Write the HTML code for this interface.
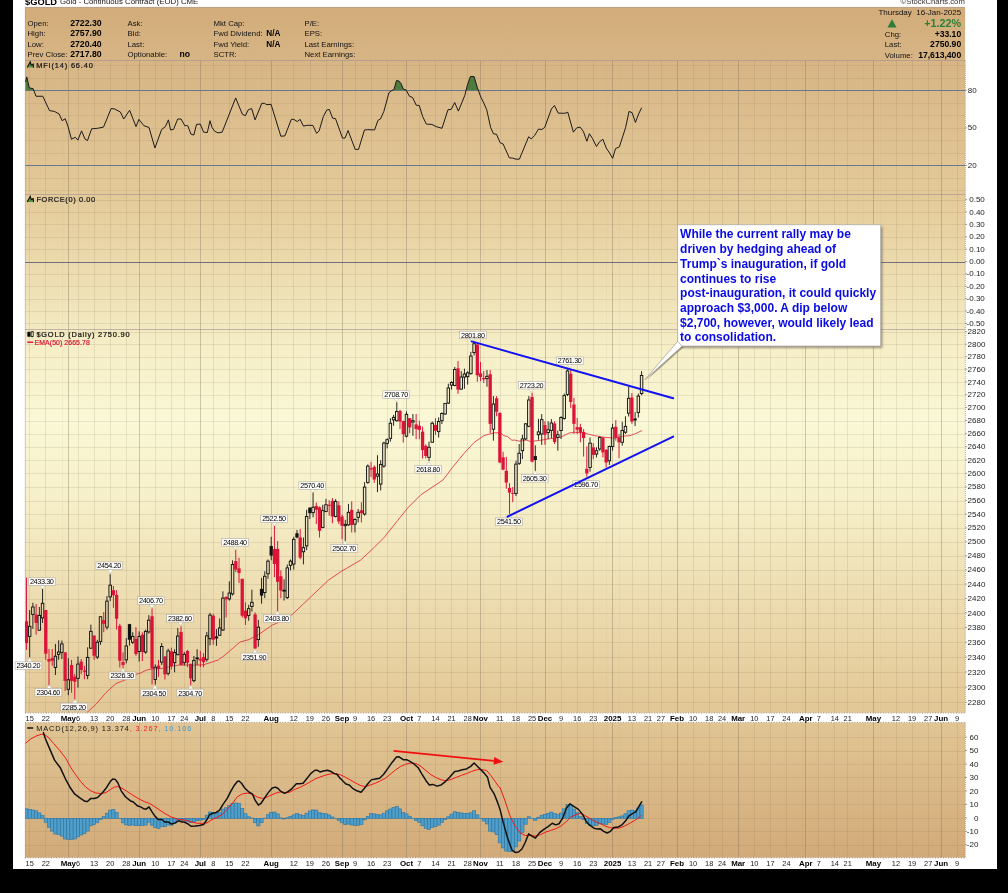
<!DOCTYPE html><html><head><meta charset="utf-8"><title>$GOLD</title>
<style>html,body{margin:0;padding:0;background:#000;}body{width:1008px;height:893px;overflow:hidden;font-family:"Liberation Sans",sans-serif;}svg{display:block;will-change:transform}text{font-family:"Liberation Sans",sans-serif;}</style></head><body>
<svg width="1008" height="893" viewBox="0 0 1008 893">
<defs>
<linearGradient id="bg" gradientUnits="userSpaceOnUse" x1="0" y1="7.0" x2="0" y2="869.0"><stop offset="0" stop-color="#D2AC7A"/><stop offset="0.07" stop-color="#D8B686"/><stop offset="0.22" stop-color="#E4CA99"/><stop offset="0.40" stop-color="#F6EFC8"/><stop offset="0.48" stop-color="#FAF8D6"/><stop offset="0.56" stop-color="#F7F1CB"/><stop offset="0.80" stop-color="#E4CA99"/><stop offset="1" stop-color="#D1A877"/></linearGradient>
<filter id="sh" x="-5%" y="-5%" width="115%" height="120%"><feGaussianBlur stdDeviation="1.2"/></filter>
<clipPath id="cpP"><rect x="25.0" y="329.5" width="940.1" height="383.29999999999995"/></clipPath>
<clipPath id="cpM"><rect x="25.0" y="722.6" width="940.1" height="135.0"/></clipPath>
<clipPath id="cpF"><rect x="25.0" y="60.5" width="940.1" height="134.0"/></clipPath>
</defs>
<rect width="1008" height="893" fill="#000"/>
<rect x="13" y="0" width="984" height="869.0" fill="#fff"/>
<rect x="25.0" y="7.0" width="940.1" height="705.8" fill="url(#bg)"/>
<rect x="25.0" y="722.6" width="940.1" height="135.0" fill="url(#bg)"/>
<g>
<line x1="29.5" y1="60.5" x2="29.5" y2="712.8" stroke="#7d6f58" stroke-opacity="0.15" stroke-width="1"/><line x1="45.5" y1="60.5" x2="45.5" y2="712.8" stroke="#7d6f58" stroke-opacity="0.15" stroke-width="1"/><line x1="62.5" y1="60.5" x2="62.5" y2="712.8" stroke="#7d6f58" stroke-opacity="0.05" stroke-width="1"/><line x1="68.5" y1="60.5" x2="68.5" y2="712.8" stroke="#7d6f58" stroke-opacity="0.36" stroke-width="1"/><line x1="78.5" y1="60.5" x2="78.5" y2="712.8" stroke="#7d6f58" stroke-opacity="0.15" stroke-width="1"/><line x1="94.5" y1="60.5" x2="94.5" y2="712.8" stroke="#7d6f58" stroke-opacity="0.15" stroke-width="1"/><line x1="110.5" y1="60.5" x2="110.5" y2="712.8" stroke="#7d6f58" stroke-opacity="0.15" stroke-width="1"/><line x1="126.5" y1="60.5" x2="126.5" y2="712.8" stroke="#7d6f58" stroke-opacity="0.15" stroke-width="1"/><line x1="139.5" y1="60.5" x2="139.5" y2="712.8" stroke="#7d6f58" stroke-opacity="0.36" stroke-width="1"/><line x1="155.5" y1="60.5" x2="155.5" y2="712.8" stroke="#7d6f58" stroke-opacity="0.15" stroke-width="1"/><line x1="171.5" y1="60.5" x2="171.5" y2="712.8" stroke="#7d6f58" stroke-opacity="0.15" stroke-width="1"/><line x1="184.5" y1="60.5" x2="184.5" y2="712.8" stroke="#7d6f58" stroke-opacity="0.15" stroke-width="1"/><line x1="200.5" y1="60.5" x2="200.5" y2="712.8" stroke="#7d6f58" stroke-opacity="0.36" stroke-width="1"/><line x1="213.5" y1="60.5" x2="213.5" y2="712.8" stroke="#7d6f58" stroke-opacity="0.15" stroke-width="1"/><line x1="229.5" y1="60.5" x2="229.5" y2="712.8" stroke="#7d6f58" stroke-opacity="0.15" stroke-width="1"/><line x1="245.5" y1="60.5" x2="245.5" y2="712.8" stroke="#7d6f58" stroke-opacity="0.15" stroke-width="1"/><line x1="261.5" y1="60.5" x2="261.5" y2="712.8" stroke="#7d6f58" stroke-opacity="0.05" stroke-width="1"/><line x1="271.5" y1="60.5" x2="271.5" y2="712.8" stroke="#7d6f58" stroke-opacity="0.36" stroke-width="1"/><line x1="277.5" y1="60.5" x2="277.5" y2="712.8" stroke="#7d6f58" stroke-opacity="0.05" stroke-width="1"/><line x1="293.5" y1="60.5" x2="293.5" y2="712.8" stroke="#7d6f58" stroke-opacity="0.15" stroke-width="1"/><line x1="310.5" y1="60.5" x2="310.5" y2="712.8" stroke="#7d6f58" stroke-opacity="0.15" stroke-width="1"/><line x1="326.5" y1="60.5" x2="326.5" y2="712.8" stroke="#7d6f58" stroke-opacity="0.15" stroke-width="1"/><line x1="342.5" y1="60.5" x2="342.5" y2="712.8" stroke="#7d6f58" stroke-opacity="0.36" stroke-width="1"/><line x1="355.5" y1="60.5" x2="355.5" y2="712.8" stroke="#7d6f58" stroke-opacity="0.15" stroke-width="1"/><line x1="371.5" y1="60.5" x2="371.5" y2="712.8" stroke="#7d6f58" stroke-opacity="0.15" stroke-width="1"/><line x1="387.5" y1="60.5" x2="387.5" y2="712.8" stroke="#7d6f58" stroke-opacity="0.15" stroke-width="1"/><line x1="403.5" y1="60.5" x2="403.5" y2="712.8" stroke="#7d6f58" stroke-opacity="0.05" stroke-width="1"/><line x1="406.5" y1="60.5" x2="406.5" y2="712.8" stroke="#7d6f58" stroke-opacity="0.36" stroke-width="1"/><line x1="419.5" y1="60.5" x2="419.5" y2="712.8" stroke="#7d6f58" stroke-opacity="0.15" stroke-width="1"/><line x1="435.5" y1="60.5" x2="435.5" y2="712.8" stroke="#7d6f58" stroke-opacity="0.15" stroke-width="1"/><line x1="451.5" y1="60.5" x2="451.5" y2="712.8" stroke="#7d6f58" stroke-opacity="0.15" stroke-width="1"/><line x1="467.5" y1="60.5" x2="467.5" y2="712.8" stroke="#7d6f58" stroke-opacity="0.15" stroke-width="1"/><line x1="480.5" y1="60.5" x2="480.5" y2="712.8" stroke="#7d6f58" stroke-opacity="0.36" stroke-width="1"/><line x1="483.5" y1="60.5" x2="483.5" y2="712.8" stroke="#7d6f58" stroke-opacity="0.05" stroke-width="1"/><line x1="500.5" y1="60.5" x2="500.5" y2="712.8" stroke="#7d6f58" stroke-opacity="0.15" stroke-width="1"/><line x1="516.5" y1="60.5" x2="516.5" y2="712.8" stroke="#7d6f58" stroke-opacity="0.15" stroke-width="1"/><line x1="532.5" y1="60.5" x2="532.5" y2="712.8" stroke="#7d6f58" stroke-opacity="0.15" stroke-width="1"/><line x1="545.5" y1="60.5" x2="545.5" y2="712.8" stroke="#7d6f58" stroke-opacity="0.36" stroke-width="1"/><line x1="561.5" y1="60.5" x2="561.5" y2="712.8" stroke="#7d6f58" stroke-opacity="0.15" stroke-width="1"/><line x1="577.5" y1="60.5" x2="577.5" y2="712.8" stroke="#7d6f58" stroke-opacity="0.15" stroke-width="1"/><line x1="593.5" y1="60.5" x2="593.5" y2="712.8" stroke="#7d6f58" stroke-opacity="0.15" stroke-width="1"/><line x1="606.5" y1="60.5" x2="606.5" y2="712.8" stroke="#7d6f58" stroke-opacity="0.05" stroke-width="1"/><line x1="612.5" y1="60.5" x2="612.5" y2="712.8" stroke="#7d6f58" stroke-opacity="0.36" stroke-width="1"/><line x1="619.5" y1="60.5" x2="619.5" y2="712.8" stroke="#7d6f58" stroke-opacity="0.05" stroke-width="1"/><line x1="632.5" y1="60.5" x2="632.5" y2="712.8" stroke="#7d6f58" stroke-opacity="0.15" stroke-width="1"/><line x1="648.5" y1="60.5" x2="648.5" y2="712.8" stroke="#7d6f58" stroke-opacity="0.15" stroke-width="1"/><line x1="661.5" y1="60.5" x2="661.5" y2="712.8" stroke="#7d6f58" stroke-opacity="0.15" stroke-width="1"/><line x1="677.5" y1="60.5" x2="677.5" y2="712.8" stroke="#7d6f58" stroke-opacity="0.36" stroke-width="1"/><line x1="693.5" y1="60.5" x2="693.5" y2="712.8" stroke="#7d6f58" stroke-opacity="0.15" stroke-width="1"/><line x1="709.5" y1="60.5" x2="709.5" y2="712.8" stroke="#7d6f58" stroke-opacity="0.15" stroke-width="1"/><line x1="722.5" y1="60.5" x2="722.5" y2="712.8" stroke="#7d6f58" stroke-opacity="0.15" stroke-width="1"/><line x1="738.5" y1="60.5" x2="738.5" y2="712.8" stroke="#7d6f58" stroke-opacity="0.36" stroke-width="1"/><line x1="754.5" y1="60.5" x2="754.5" y2="712.8" stroke="#7d6f58" stroke-opacity="0.15" stroke-width="1"/><line x1="770.5" y1="60.5" x2="770.5" y2="712.8" stroke="#7d6f58" stroke-opacity="0.15" stroke-width="1"/><line x1="786.5" y1="60.5" x2="786.5" y2="712.8" stroke="#7d6f58" stroke-opacity="0.15" stroke-width="1"/><line x1="802.5" y1="60.5" x2="802.5" y2="712.8" stroke="#7d6f58" stroke-opacity="0.05" stroke-width="1"/><line x1="805.5" y1="60.5" x2="805.5" y2="712.8" stroke="#7d6f58" stroke-opacity="0.36" stroke-width="1"/><line x1="818.5" y1="60.5" x2="818.5" y2="712.8" stroke="#7d6f58" stroke-opacity="0.15" stroke-width="1"/><line x1="834.5" y1="60.5" x2="834.5" y2="712.8" stroke="#7d6f58" stroke-opacity="0.15" stroke-width="1"/><line x1="847.5" y1="60.5" x2="847.5" y2="712.8" stroke="#7d6f58" stroke-opacity="0.15" stroke-width="1"/><line x1="863.5" y1="60.5" x2="863.5" y2="712.8" stroke="#7d6f58" stroke-opacity="0.05" stroke-width="1"/><line x1="873.5" y1="60.5" x2="873.5" y2="712.8" stroke="#7d6f58" stroke-opacity="0.36" stroke-width="1"/><line x1="880.5" y1="60.5" x2="880.5" y2="712.8" stroke="#7d6f58" stroke-opacity="0.05" stroke-width="1"/><line x1="896.5" y1="60.5" x2="896.5" y2="712.8" stroke="#7d6f58" stroke-opacity="0.15" stroke-width="1"/><line x1="912.5" y1="60.5" x2="912.5" y2="712.8" stroke="#7d6f58" stroke-opacity="0.15" stroke-width="1"/><line x1="928.5" y1="60.5" x2="928.5" y2="712.8" stroke="#7d6f58" stroke-opacity="0.15" stroke-width="1"/><line x1="941.5" y1="60.5" x2="941.5" y2="712.8" stroke="#7d6f58" stroke-opacity="0.36" stroke-width="1"/><line x1="957.5" y1="60.5" x2="957.5" y2="712.8" stroke="#7d6f58" stroke-opacity="0.15" stroke-width="1"/>
<line x1="29.5" y1="722.6" x2="29.5" y2="857.6" stroke="#7d6f58" stroke-opacity="0.15" stroke-width="1"/><line x1="45.5" y1="722.6" x2="45.5" y2="857.6" stroke="#7d6f58" stroke-opacity="0.15" stroke-width="1"/><line x1="62.5" y1="722.6" x2="62.5" y2="857.6" stroke="#7d6f58" stroke-opacity="0.05" stroke-width="1"/><line x1="68.5" y1="722.6" x2="68.5" y2="857.6" stroke="#7d6f58" stroke-opacity="0.36" stroke-width="1"/><line x1="78.5" y1="722.6" x2="78.5" y2="857.6" stroke="#7d6f58" stroke-opacity="0.15" stroke-width="1"/><line x1="94.5" y1="722.6" x2="94.5" y2="857.6" stroke="#7d6f58" stroke-opacity="0.15" stroke-width="1"/><line x1="110.5" y1="722.6" x2="110.5" y2="857.6" stroke="#7d6f58" stroke-opacity="0.15" stroke-width="1"/><line x1="126.5" y1="722.6" x2="126.5" y2="857.6" stroke="#7d6f58" stroke-opacity="0.15" stroke-width="1"/><line x1="139.5" y1="722.6" x2="139.5" y2="857.6" stroke="#7d6f58" stroke-opacity="0.36" stroke-width="1"/><line x1="155.5" y1="722.6" x2="155.5" y2="857.6" stroke="#7d6f58" stroke-opacity="0.15" stroke-width="1"/><line x1="171.5" y1="722.6" x2="171.5" y2="857.6" stroke="#7d6f58" stroke-opacity="0.15" stroke-width="1"/><line x1="184.5" y1="722.6" x2="184.5" y2="857.6" stroke="#7d6f58" stroke-opacity="0.15" stroke-width="1"/><line x1="200.5" y1="722.6" x2="200.5" y2="857.6" stroke="#7d6f58" stroke-opacity="0.36" stroke-width="1"/><line x1="213.5" y1="722.6" x2="213.5" y2="857.6" stroke="#7d6f58" stroke-opacity="0.15" stroke-width="1"/><line x1="229.5" y1="722.6" x2="229.5" y2="857.6" stroke="#7d6f58" stroke-opacity="0.15" stroke-width="1"/><line x1="245.5" y1="722.6" x2="245.5" y2="857.6" stroke="#7d6f58" stroke-opacity="0.15" stroke-width="1"/><line x1="261.5" y1="722.6" x2="261.5" y2="857.6" stroke="#7d6f58" stroke-opacity="0.05" stroke-width="1"/><line x1="271.5" y1="722.6" x2="271.5" y2="857.6" stroke="#7d6f58" stroke-opacity="0.36" stroke-width="1"/><line x1="277.5" y1="722.6" x2="277.5" y2="857.6" stroke="#7d6f58" stroke-opacity="0.05" stroke-width="1"/><line x1="293.5" y1="722.6" x2="293.5" y2="857.6" stroke="#7d6f58" stroke-opacity="0.15" stroke-width="1"/><line x1="310.5" y1="722.6" x2="310.5" y2="857.6" stroke="#7d6f58" stroke-opacity="0.15" stroke-width="1"/><line x1="326.5" y1="722.6" x2="326.5" y2="857.6" stroke="#7d6f58" stroke-opacity="0.15" stroke-width="1"/><line x1="342.5" y1="722.6" x2="342.5" y2="857.6" stroke="#7d6f58" stroke-opacity="0.36" stroke-width="1"/><line x1="355.5" y1="722.6" x2="355.5" y2="857.6" stroke="#7d6f58" stroke-opacity="0.15" stroke-width="1"/><line x1="371.5" y1="722.6" x2="371.5" y2="857.6" stroke="#7d6f58" stroke-opacity="0.15" stroke-width="1"/><line x1="387.5" y1="722.6" x2="387.5" y2="857.6" stroke="#7d6f58" stroke-opacity="0.15" stroke-width="1"/><line x1="403.5" y1="722.6" x2="403.5" y2="857.6" stroke="#7d6f58" stroke-opacity="0.05" stroke-width="1"/><line x1="406.5" y1="722.6" x2="406.5" y2="857.6" stroke="#7d6f58" stroke-opacity="0.36" stroke-width="1"/><line x1="419.5" y1="722.6" x2="419.5" y2="857.6" stroke="#7d6f58" stroke-opacity="0.15" stroke-width="1"/><line x1="435.5" y1="722.6" x2="435.5" y2="857.6" stroke="#7d6f58" stroke-opacity="0.15" stroke-width="1"/><line x1="451.5" y1="722.6" x2="451.5" y2="857.6" stroke="#7d6f58" stroke-opacity="0.15" stroke-width="1"/><line x1="467.5" y1="722.6" x2="467.5" y2="857.6" stroke="#7d6f58" stroke-opacity="0.15" stroke-width="1"/><line x1="480.5" y1="722.6" x2="480.5" y2="857.6" stroke="#7d6f58" stroke-opacity="0.36" stroke-width="1"/><line x1="483.5" y1="722.6" x2="483.5" y2="857.6" stroke="#7d6f58" stroke-opacity="0.05" stroke-width="1"/><line x1="500.5" y1="722.6" x2="500.5" y2="857.6" stroke="#7d6f58" stroke-opacity="0.15" stroke-width="1"/><line x1="516.5" y1="722.6" x2="516.5" y2="857.6" stroke="#7d6f58" stroke-opacity="0.15" stroke-width="1"/><line x1="532.5" y1="722.6" x2="532.5" y2="857.6" stroke="#7d6f58" stroke-opacity="0.15" stroke-width="1"/><line x1="545.5" y1="722.6" x2="545.5" y2="857.6" stroke="#7d6f58" stroke-opacity="0.36" stroke-width="1"/><line x1="561.5" y1="722.6" x2="561.5" y2="857.6" stroke="#7d6f58" stroke-opacity="0.15" stroke-width="1"/><line x1="577.5" y1="722.6" x2="577.5" y2="857.6" stroke="#7d6f58" stroke-opacity="0.15" stroke-width="1"/><line x1="593.5" y1="722.6" x2="593.5" y2="857.6" stroke="#7d6f58" stroke-opacity="0.15" stroke-width="1"/><line x1="606.5" y1="722.6" x2="606.5" y2="857.6" stroke="#7d6f58" stroke-opacity="0.05" stroke-width="1"/><line x1="612.5" y1="722.6" x2="612.5" y2="857.6" stroke="#7d6f58" stroke-opacity="0.36" stroke-width="1"/><line x1="619.5" y1="722.6" x2="619.5" y2="857.6" stroke="#7d6f58" stroke-opacity="0.05" stroke-width="1"/><line x1="632.5" y1="722.6" x2="632.5" y2="857.6" stroke="#7d6f58" stroke-opacity="0.15" stroke-width="1"/><line x1="648.5" y1="722.6" x2="648.5" y2="857.6" stroke="#7d6f58" stroke-opacity="0.15" stroke-width="1"/><line x1="661.5" y1="722.6" x2="661.5" y2="857.6" stroke="#7d6f58" stroke-opacity="0.15" stroke-width="1"/><line x1="677.5" y1="722.6" x2="677.5" y2="857.6" stroke="#7d6f58" stroke-opacity="0.36" stroke-width="1"/><line x1="693.5" y1="722.6" x2="693.5" y2="857.6" stroke="#7d6f58" stroke-opacity="0.15" stroke-width="1"/><line x1="709.5" y1="722.6" x2="709.5" y2="857.6" stroke="#7d6f58" stroke-opacity="0.15" stroke-width="1"/><line x1="722.5" y1="722.6" x2="722.5" y2="857.6" stroke="#7d6f58" stroke-opacity="0.15" stroke-width="1"/><line x1="738.5" y1="722.6" x2="738.5" y2="857.6" stroke="#7d6f58" stroke-opacity="0.36" stroke-width="1"/><line x1="754.5" y1="722.6" x2="754.5" y2="857.6" stroke="#7d6f58" stroke-opacity="0.15" stroke-width="1"/><line x1="770.5" y1="722.6" x2="770.5" y2="857.6" stroke="#7d6f58" stroke-opacity="0.15" stroke-width="1"/><line x1="786.5" y1="722.6" x2="786.5" y2="857.6" stroke="#7d6f58" stroke-opacity="0.15" stroke-width="1"/><line x1="802.5" y1="722.6" x2="802.5" y2="857.6" stroke="#7d6f58" stroke-opacity="0.05" stroke-width="1"/><line x1="805.5" y1="722.6" x2="805.5" y2="857.6" stroke="#7d6f58" stroke-opacity="0.36" stroke-width="1"/><line x1="818.5" y1="722.6" x2="818.5" y2="857.6" stroke="#7d6f58" stroke-opacity="0.15" stroke-width="1"/><line x1="834.5" y1="722.6" x2="834.5" y2="857.6" stroke="#7d6f58" stroke-opacity="0.15" stroke-width="1"/><line x1="847.5" y1="722.6" x2="847.5" y2="857.6" stroke="#7d6f58" stroke-opacity="0.15" stroke-width="1"/><line x1="863.5" y1="722.6" x2="863.5" y2="857.6" stroke="#7d6f58" stroke-opacity="0.05" stroke-width="1"/><line x1="873.5" y1="722.6" x2="873.5" y2="857.6" stroke="#7d6f58" stroke-opacity="0.36" stroke-width="1"/><line x1="880.5" y1="722.6" x2="880.5" y2="857.6" stroke="#7d6f58" stroke-opacity="0.05" stroke-width="1"/><line x1="896.5" y1="722.6" x2="896.5" y2="857.6" stroke="#7d6f58" stroke-opacity="0.15" stroke-width="1"/><line x1="912.5" y1="722.6" x2="912.5" y2="857.6" stroke="#7d6f58" stroke-opacity="0.15" stroke-width="1"/><line x1="928.5" y1="722.6" x2="928.5" y2="857.6" stroke="#7d6f58" stroke-opacity="0.15" stroke-width="1"/><line x1="941.5" y1="722.6" x2="941.5" y2="857.6" stroke="#7d6f58" stroke-opacity="0.36" stroke-width="1"/><line x1="957.5" y1="722.6" x2="957.5" y2="857.6" stroke="#7d6f58" stroke-opacity="0.15" stroke-width="1"/>
</g>
<line x1="25.0" y1="190.5" x2="965.1" y2="190.5" stroke="#7d6f58" stroke-opacity="0.12" stroke-width="1"/>
<line x1="25.0" y1="178.5" x2="965.1" y2="178.5" stroke="#7d6f58" stroke-opacity="0.12" stroke-width="1"/>
<line x1="25.0" y1="153.5" x2="965.1" y2="153.5" stroke="#7d6f58" stroke-opacity="0.12" stroke-width="1"/>
<line x1="25.0" y1="140.5" x2="965.1" y2="140.5" stroke="#7d6f58" stroke-opacity="0.12" stroke-width="1"/>
<line x1="25.0" y1="128.5" x2="965.1" y2="128.5" stroke="#7d6f58" stroke-opacity="0.12" stroke-width="1"/>
<line x1="25.0" y1="115.5" x2="965.1" y2="115.5" stroke="#7d6f58" stroke-opacity="0.12" stroke-width="1"/>
<line x1="25.0" y1="103.5" x2="965.1" y2="103.5" stroke="#7d6f58" stroke-opacity="0.12" stroke-width="1"/>
<line x1="25.0" y1="78.5" x2="965.1" y2="78.5" stroke="#7d6f58" stroke-opacity="0.12" stroke-width="1"/>
<line x1="25.0" y1="65.5" x2="965.1" y2="65.5" stroke="#7d6f58" stroke-opacity="0.12" stroke-width="1"/>
<line x1="25.0" y1="323.5" x2="965.1" y2="323.5" stroke="#7d6f58" stroke-opacity="0.13" stroke-width="1"/>
<line x1="25.0" y1="311.5" x2="965.1" y2="311.5" stroke="#7d6f58" stroke-opacity="0.13" stroke-width="1"/>
<line x1="25.0" y1="299.5" x2="965.1" y2="299.5" stroke="#7d6f58" stroke-opacity="0.13" stroke-width="1"/>
<line x1="25.0" y1="286.5" x2="965.1" y2="286.5" stroke="#7d6f58" stroke-opacity="0.13" stroke-width="1"/>
<line x1="25.0" y1="274.5" x2="965.1" y2="274.5" stroke="#7d6f58" stroke-opacity="0.13" stroke-width="1"/>
<line x1="25.0" y1="249.5" x2="965.1" y2="249.5" stroke="#7d6f58" stroke-opacity="0.13" stroke-width="1"/>
<line x1="25.0" y1="237.5" x2="965.1" y2="237.5" stroke="#7d6f58" stroke-opacity="0.13" stroke-width="1"/>
<line x1="25.0" y1="224.5" x2="965.1" y2="224.5" stroke="#7d6f58" stroke-opacity="0.13" stroke-width="1"/>
<line x1="25.0" y1="212.5" x2="965.1" y2="212.5" stroke="#7d6f58" stroke-opacity="0.13" stroke-width="1"/>
<line x1="25.0" y1="200.5" x2="965.1" y2="200.5" stroke="#7d6f58" stroke-opacity="0.13" stroke-width="1"/>
<line x1="25.0" y1="702.5" x2="965.1" y2="702.5" stroke="#7d6f58" stroke-opacity="0.145" stroke-width="1"/>
<line x1="25.0" y1="687.5" x2="965.1" y2="687.5" stroke="#7d6f58" stroke-opacity="0.145" stroke-width="1"/>
<line x1="25.0" y1="672.5" x2="965.1" y2="672.5" stroke="#7d6f58" stroke-opacity="0.145" stroke-width="1"/>
<line x1="25.0" y1="657.5" x2="965.1" y2="657.5" stroke="#7d6f58" stroke-opacity="0.145" stroke-width="1"/>
<line x1="25.0" y1="642.5" x2="965.1" y2="642.5" stroke="#7d6f58" stroke-opacity="0.145" stroke-width="1"/>
<line x1="25.0" y1="628.5" x2="965.1" y2="628.5" stroke="#7d6f58" stroke-opacity="0.145" stroke-width="1"/>
<line x1="25.0" y1="613.5" x2="965.1" y2="613.5" stroke="#7d6f58" stroke-opacity="0.145" stroke-width="1"/>
<line x1="25.0" y1="599.5" x2="965.1" y2="599.5" stroke="#7d6f58" stroke-opacity="0.145" stroke-width="1"/>
<line x1="25.0" y1="584.5" x2="965.1" y2="584.5" stroke="#7d6f58" stroke-opacity="0.145" stroke-width="1"/>
<line x1="25.0" y1="570.5" x2="965.1" y2="570.5" stroke="#7d6f58" stroke-opacity="0.145" stroke-width="1"/>
<line x1="25.0" y1="556.5" x2="965.1" y2="556.5" stroke="#7d6f58" stroke-opacity="0.145" stroke-width="1"/>
<line x1="25.0" y1="542.5" x2="965.1" y2="542.5" stroke="#7d6f58" stroke-opacity="0.145" stroke-width="1"/>
<line x1="25.0" y1="528.5" x2="965.1" y2="528.5" stroke="#7d6f58" stroke-opacity="0.145" stroke-width="1"/>
<line x1="25.0" y1="514.5" x2="965.1" y2="514.5" stroke="#7d6f58" stroke-opacity="0.145" stroke-width="1"/>
<line x1="25.0" y1="501.5" x2="965.1" y2="501.5" stroke="#7d6f58" stroke-opacity="0.145" stroke-width="1"/>
<line x1="25.0" y1="487.5" x2="965.1" y2="487.5" stroke="#7d6f58" stroke-opacity="0.145" stroke-width="1"/>
<line x1="25.0" y1="473.5" x2="965.1" y2="473.5" stroke="#7d6f58" stroke-opacity="0.145" stroke-width="1"/>
<line x1="25.0" y1="460.5" x2="965.1" y2="460.5" stroke="#7d6f58" stroke-opacity="0.145" stroke-width="1"/>
<line x1="25.0" y1="447.5" x2="965.1" y2="447.5" stroke="#7d6f58" stroke-opacity="0.145" stroke-width="1"/>
<line x1="25.0" y1="434.5" x2="965.1" y2="434.5" stroke="#7d6f58" stroke-opacity="0.145" stroke-width="1"/>
<line x1="25.0" y1="421.5" x2="965.1" y2="421.5" stroke="#7d6f58" stroke-opacity="0.145" stroke-width="1"/>
<line x1="25.0" y1="408.5" x2="965.1" y2="408.5" stroke="#7d6f58" stroke-opacity="0.145" stroke-width="1"/>
<line x1="25.0" y1="395.5" x2="965.1" y2="395.5" stroke="#7d6f58" stroke-opacity="0.145" stroke-width="1"/>
<line x1="25.0" y1="382.5" x2="965.1" y2="382.5" stroke="#7d6f58" stroke-opacity="0.145" stroke-width="1"/>
<line x1="25.0" y1="369.5" x2="965.1" y2="369.5" stroke="#7d6f58" stroke-opacity="0.145" stroke-width="1"/>
<line x1="25.0" y1="357.5" x2="965.1" y2="357.5" stroke="#7d6f58" stroke-opacity="0.145" stroke-width="1"/>
<line x1="25.0" y1="344.5" x2="965.1" y2="344.5" stroke="#7d6f58" stroke-opacity="0.145" stroke-width="1"/>
<line x1="25.0" y1="332.5" x2="965.1" y2="332.5" stroke="#7d6f58" stroke-opacity="0.145" stroke-width="1"/>
<line x1="25.0" y1="845.5" x2="965.1" y2="845.5" stroke="#7d6f58" stroke-opacity="0.14" stroke-width="1"/>
<line x1="25.0" y1="831.5" x2="965.1" y2="831.5" stroke="#7d6f58" stroke-opacity="0.14" stroke-width="1"/>
<line x1="25.0" y1="818.5" x2="965.1" y2="818.5" stroke="#7d6f58" stroke-opacity="0.14" stroke-width="1"/>
<line x1="25.0" y1="804.5" x2="965.1" y2="804.5" stroke="#7d6f58" stroke-opacity="0.14" stroke-width="1"/>
<line x1="25.0" y1="791.5" x2="965.1" y2="791.5" stroke="#7d6f58" stroke-opacity="0.14" stroke-width="1"/>
<line x1="25.0" y1="777.5" x2="965.1" y2="777.5" stroke="#7d6f58" stroke-opacity="0.14" stroke-width="1"/>
<line x1="25.0" y1="764.5" x2="965.1" y2="764.5" stroke="#7d6f58" stroke-opacity="0.14" stroke-width="1"/>
<line x1="25.0" y1="751.5" x2="965.1" y2="751.5" stroke="#7d6f58" stroke-opacity="0.14" stroke-width="1"/>
<line x1="25.0" y1="737.5" x2="965.1" y2="737.5" stroke="#7d6f58" stroke-opacity="0.14" stroke-width="1"/>
<line x1="25.0" y1="90.5" x2="965.1" y2="90.5" stroke="#66788a" stroke-opacity="1" stroke-width="1"/>
<line x1="25.0" y1="165.5" x2="965.1" y2="165.5" stroke="#66788a" stroke-opacity="1" stroke-width="1"/>
<line x1="25.0" y1="262.5" x2="965.1" y2="262.5" stroke="#6f6f82" stroke-opacity="1" stroke-width="1"/>
<line x1="25.0" y1="60.5" x2="965.1" y2="60.5" stroke="#a48f95" stroke-opacity="0.62" stroke-width="1"/>
<line x1="25.0" y1="194.5" x2="965.1" y2="194.5" stroke="#a48f95" stroke-opacity="0.62" stroke-width="1"/>
<line x1="25.0" y1="329.5" x2="965.1" y2="329.5" stroke="#a48f95" stroke-opacity="0.62" stroke-width="1"/>
<line x1="25.3" y1="7.0" x2="25.3" y2="712.8" stroke="#a48f95" stroke-opacity="0.6" stroke-width="0.8"/>
<line x1="25.3" y1="722.6" x2="25.3" y2="857.6" stroke="#a48f95" stroke-opacity="0.6" stroke-width="0.8"/>
<line x1="965.3000000000001" y1="60.5" x2="965.3000000000001" y2="712.8" stroke="#9c6f86" stroke-opacity="0.8" stroke-width="0.9" stroke-dasharray="1 1.05"/>
<line x1="965.3000000000001" y1="722.6" x2="965.3000000000001" y2="857.6" stroke="#9c6f86" stroke-opacity="0.8" stroke-width="0.9" stroke-dasharray="1 1.05"/>
<line x1="25.0" y1="7.3" x2="965.1" y2="7.3" stroke="#a48f95" stroke-opacity="0.5" stroke-width="0.8"/>
<line x1="25.0" y1="713" x2="965.1" y2="713" stroke="#6b5a48" stroke-opacity="0.75" stroke-width="0.8" stroke-dasharray="1 1.6"/>
<line x1="25.0" y1="722.4" x2="965.1" y2="722.4" stroke="#6b5a48" stroke-opacity="0.75" stroke-width="0.8" stroke-dasharray="1 1.6"/>
<line x1="25.0" y1="857.8" x2="965.1" y2="857.8" stroke="#6b5a48" stroke-opacity="0.75" stroke-width="0.8" stroke-dasharray="1 1.6"/>
<text x="29.67" y="720.6" font-size="7.4" text-anchor="middle" fill="#222">15</text><text x="45.77" y="720.6" font-size="7.4" text-anchor="middle" fill="#222">22</text><text x="68.32" y="720.6" font-size="7.9" font-weight="bold" text-anchor="middle" fill="#000">May</text><text x="77.98" y="720.6" font-size="7.4" text-anchor="middle" fill="#222">6</text><text x="94.08" y="720.6" font-size="7.4" text-anchor="middle" fill="#222">13</text><text x="110.18" y="720.6" font-size="7.4" text-anchor="middle" fill="#222">20</text><text x="126.29" y="720.6" font-size="7.4" text-anchor="middle" fill="#222">28</text><text x="139.17" y="720.6" font-size="7.9" font-weight="bold" text-anchor="middle" fill="#000">Jun</text><text x="155.27" y="720.6" font-size="7.4" text-anchor="middle" fill="#222">10</text><text x="171.37" y="720.6" font-size="7.4" text-anchor="middle" fill="#222">17</text><text x="184.25" y="720.6" font-size="7.4" text-anchor="middle" fill="#222">24</text><text x="200.36" y="720.6" font-size="7.9" font-weight="bold" text-anchor="middle" fill="#000">Jul</text><text x="213.24" y="720.6" font-size="7.4" text-anchor="middle" fill="#222">8</text><text x="229.34" y="720.6" font-size="7.4" text-anchor="middle" fill="#222">15</text><text x="245.44" y="720.6" font-size="7.4" text-anchor="middle" fill="#222">22</text><text x="271.21" y="720.6" font-size="7.9" font-weight="bold" text-anchor="middle" fill="#000">Aug</text><text x="293.75" y="720.6" font-size="7.4" text-anchor="middle" fill="#222">12</text><text x="309.85" y="720.6" font-size="7.4" text-anchor="middle" fill="#222">19</text><text x="325.96" y="720.6" font-size="7.4" text-anchor="middle" fill="#222">26</text><text x="342.06" y="720.6" font-size="7.9" font-weight="bold" text-anchor="middle" fill="#000">Sep</text><text x="354.94" y="720.6" font-size="7.4" text-anchor="middle" fill="#222">9</text><text x="371.04" y="720.6" font-size="7.4" text-anchor="middle" fill="#222">16</text><text x="387.15" y="720.6" font-size="7.4" text-anchor="middle" fill="#222">23</text><text x="406.47" y="720.6" font-size="7.9" font-weight="bold" text-anchor="middle" fill="#000">Oct</text><text x="419.35" y="720.6" font-size="7.4" text-anchor="middle" fill="#222">7</text><text x="435.45" y="720.6" font-size="7.4" text-anchor="middle" fill="#222">14</text><text x="451.56" y="720.6" font-size="7.4" text-anchor="middle" fill="#222">21</text><text x="467.66" y="720.6" font-size="7.4" text-anchor="middle" fill="#222">28</text><text x="480.54" y="720.6" font-size="7.9" font-weight="bold" text-anchor="middle" fill="#000">Nov</text><text x="499.86" y="720.6" font-size="7.4" text-anchor="middle" fill="#222">11</text><text x="515.97" y="720.6" font-size="7.4" text-anchor="middle" fill="#222">18</text><text x="532.07" y="720.6" font-size="7.4" text-anchor="middle" fill="#222">25</text><text x="544.95" y="720.6" font-size="7.9" font-weight="bold" text-anchor="middle" fill="#000">Dec</text><text x="561.05" y="720.6" font-size="7.4" text-anchor="middle" fill="#222">9</text><text x="577.16" y="720.6" font-size="7.4" text-anchor="middle" fill="#222">16</text><text x="593.26" y="720.6" font-size="7.4" text-anchor="middle" fill="#222">23</text><text x="612.58" y="720.6" font-size="7.9" font-weight="bold" text-anchor="middle" fill="#000">2025</text><text x="631.9" y="720.6" font-size="7.4" text-anchor="middle" fill="#222">13</text><text x="648.01" y="720.6" font-size="7.4" text-anchor="middle" fill="#222">21</text><text x="660.89" y="720.6" font-size="7.4" text-anchor="middle" fill="#222">27</text><text x="676.99" y="720.6" font-size="7.9" font-weight="bold" text-anchor="middle" fill="#000">Feb</text><text x="693.09" y="720.6" font-size="7.4" text-anchor="middle" fill="#222">10</text><text x="709.2" y="720.6" font-size="7.4" text-anchor="middle" fill="#222">18</text><text x="722.08" y="720.6" font-size="7.4" text-anchor="middle" fill="#222">24</text><text x="738.18" y="720.6" font-size="7.9" font-weight="bold" text-anchor="middle" fill="#000">Mar</text><text x="754.28" y="720.6" font-size="7.4" text-anchor="middle" fill="#222">10</text><text x="770.39" y="720.6" font-size="7.4" text-anchor="middle" fill="#222">17</text><text x="786.49" y="720.6" font-size="7.4" text-anchor="middle" fill="#222">24</text><text x="805.81" y="720.6" font-size="7.9" font-weight="bold" text-anchor="middle" fill="#000">Apr</text><text x="818.69" y="720.6" font-size="7.4" text-anchor="middle" fill="#222">7</text><text x="834.8" y="720.6" font-size="7.4" text-anchor="middle" fill="#222">14</text><text x="847.68" y="720.6" font-size="7.4" text-anchor="middle" fill="#222">21</text><text x="873.44" y="720.6" font-size="7.9" font-weight="bold" text-anchor="middle" fill="#000">May</text><text x="895.99" y="720.6" font-size="7.4" text-anchor="middle" fill="#222">12</text><text x="912.09" y="720.6" font-size="7.4" text-anchor="middle" fill="#222">19</text><text x="928.19" y="720.6" font-size="7.4" text-anchor="middle" fill="#222">27</text><text x="941.07" y="720.6" font-size="7.9" font-weight="bold" text-anchor="middle" fill="#000">Jun</text><text x="957.17" y="720.6" font-size="7.4" text-anchor="middle" fill="#222">9</text>
<text x="29.67" y="865.8" font-size="7.4" text-anchor="middle" fill="#222">15</text><text x="45.77" y="865.8" font-size="7.4" text-anchor="middle" fill="#222">22</text><text x="68.32" y="865.8" font-size="7.9" font-weight="bold" text-anchor="middle" fill="#000">May</text><text x="77.98" y="865.8" font-size="7.4" text-anchor="middle" fill="#222">6</text><text x="94.08" y="865.8" font-size="7.4" text-anchor="middle" fill="#222">13</text><text x="110.18" y="865.8" font-size="7.4" text-anchor="middle" fill="#222">20</text><text x="126.29" y="865.8" font-size="7.4" text-anchor="middle" fill="#222">28</text><text x="139.17" y="865.8" font-size="7.9" font-weight="bold" text-anchor="middle" fill="#000">Jun</text><text x="155.27" y="865.8" font-size="7.4" text-anchor="middle" fill="#222">10</text><text x="171.37" y="865.8" font-size="7.4" text-anchor="middle" fill="#222">17</text><text x="184.25" y="865.8" font-size="7.4" text-anchor="middle" fill="#222">24</text><text x="200.36" y="865.8" font-size="7.9" font-weight="bold" text-anchor="middle" fill="#000">Jul</text><text x="213.24" y="865.8" font-size="7.4" text-anchor="middle" fill="#222">8</text><text x="229.34" y="865.8" font-size="7.4" text-anchor="middle" fill="#222">15</text><text x="245.44" y="865.8" font-size="7.4" text-anchor="middle" fill="#222">22</text><text x="271.21" y="865.8" font-size="7.9" font-weight="bold" text-anchor="middle" fill="#000">Aug</text><text x="293.75" y="865.8" font-size="7.4" text-anchor="middle" fill="#222">12</text><text x="309.85" y="865.8" font-size="7.4" text-anchor="middle" fill="#222">19</text><text x="325.96" y="865.8" font-size="7.4" text-anchor="middle" fill="#222">26</text><text x="342.06" y="865.8" font-size="7.9" font-weight="bold" text-anchor="middle" fill="#000">Sep</text><text x="354.94" y="865.8" font-size="7.4" text-anchor="middle" fill="#222">9</text><text x="371.04" y="865.8" font-size="7.4" text-anchor="middle" fill="#222">16</text><text x="387.15" y="865.8" font-size="7.4" text-anchor="middle" fill="#222">23</text><text x="406.47" y="865.8" font-size="7.9" font-weight="bold" text-anchor="middle" fill="#000">Oct</text><text x="419.35" y="865.8" font-size="7.4" text-anchor="middle" fill="#222">7</text><text x="435.45" y="865.8" font-size="7.4" text-anchor="middle" fill="#222">14</text><text x="451.56" y="865.8" font-size="7.4" text-anchor="middle" fill="#222">21</text><text x="467.66" y="865.8" font-size="7.4" text-anchor="middle" fill="#222">28</text><text x="480.54" y="865.8" font-size="7.9" font-weight="bold" text-anchor="middle" fill="#000">Nov</text><text x="499.86" y="865.8" font-size="7.4" text-anchor="middle" fill="#222">11</text><text x="515.97" y="865.8" font-size="7.4" text-anchor="middle" fill="#222">18</text><text x="532.07" y="865.8" font-size="7.4" text-anchor="middle" fill="#222">25</text><text x="544.95" y="865.8" font-size="7.9" font-weight="bold" text-anchor="middle" fill="#000">Dec</text><text x="561.05" y="865.8" font-size="7.4" text-anchor="middle" fill="#222">9</text><text x="577.16" y="865.8" font-size="7.4" text-anchor="middle" fill="#222">16</text><text x="593.26" y="865.8" font-size="7.4" text-anchor="middle" fill="#222">23</text><text x="612.58" y="865.8" font-size="7.9" font-weight="bold" text-anchor="middle" fill="#000">2025</text><text x="631.9" y="865.8" font-size="7.4" text-anchor="middle" fill="#222">13</text><text x="648.01" y="865.8" font-size="7.4" text-anchor="middle" fill="#222">21</text><text x="660.89" y="865.8" font-size="7.4" text-anchor="middle" fill="#222">27</text><text x="676.99" y="865.8" font-size="7.9" font-weight="bold" text-anchor="middle" fill="#000">Feb</text><text x="693.09" y="865.8" font-size="7.4" text-anchor="middle" fill="#222">10</text><text x="709.2" y="865.8" font-size="7.4" text-anchor="middle" fill="#222">18</text><text x="722.08" y="865.8" font-size="7.4" text-anchor="middle" fill="#222">24</text><text x="738.18" y="865.8" font-size="7.9" font-weight="bold" text-anchor="middle" fill="#000">Mar</text><text x="754.28" y="865.8" font-size="7.4" text-anchor="middle" fill="#222">10</text><text x="770.39" y="865.8" font-size="7.4" text-anchor="middle" fill="#222">17</text><text x="786.49" y="865.8" font-size="7.4" text-anchor="middle" fill="#222">24</text><text x="805.81" y="865.8" font-size="7.9" font-weight="bold" text-anchor="middle" fill="#000">Apr</text><text x="818.69" y="865.8" font-size="7.4" text-anchor="middle" fill="#222">7</text><text x="834.8" y="865.8" font-size="7.4" text-anchor="middle" fill="#222">14</text><text x="847.68" y="865.8" font-size="7.4" text-anchor="middle" fill="#222">21</text><text x="873.44" y="865.8" font-size="7.9" font-weight="bold" text-anchor="middle" fill="#000">May</text><text x="895.99" y="865.8" font-size="7.4" text-anchor="middle" fill="#222">12</text><text x="912.09" y="865.8" font-size="7.4" text-anchor="middle" fill="#222">19</text><text x="928.19" y="865.8" font-size="7.4" text-anchor="middle" fill="#222">27</text><text x="941.07" y="865.8" font-size="7.9" font-weight="bold" text-anchor="middle" fill="#000">Jun</text><text x="957.17" y="865.8" font-size="7.4" text-anchor="middle" fill="#222">9</text>
<text x="967.8" y="92.9" font-size="8.0" text-anchor="start" fill="#222">80</text>
<line x1="965.1" y1="90.3" x2="967.1" y2="90.3" stroke="#6b5a48" stroke-width="0.7" stroke-opacity="0.8"/>
<text x="967.8" y="130.45" font-size="8.0" text-anchor="start" fill="#222">50</text>
<line x1="965.1" y1="127.85" x2="967.1" y2="127.85" stroke="#6b5a48" stroke-width="0.7" stroke-opacity="0.8"/>
<text x="967.8" y="168" font-size="8.0" text-anchor="start" fill="#222">20</text>
<line x1="965.1" y1="165.4" x2="967.1" y2="165.4" stroke="#6b5a48" stroke-width="0.7" stroke-opacity="0.8"/>
<text x="984.8" y="325.95" font-size="8.0" text-anchor="end" fill="#222">-0.50</text>
<line x1="965.1" y1="323.35" x2="967.1" y2="323.35" stroke="#6b5a48" stroke-width="0.7" stroke-opacity="0.8"/>
<text x="984.8" y="313.58" font-size="8.0" text-anchor="end" fill="#222">-0.40</text>
<line x1="965.1" y1="310.98" x2="967.1" y2="310.98" stroke="#6b5a48" stroke-width="0.7" stroke-opacity="0.8"/>
<text x="984.8" y="301.21" font-size="8.0" text-anchor="end" fill="#222">-0.30</text>
<line x1="965.1" y1="298.61" x2="967.1" y2="298.61" stroke="#6b5a48" stroke-width="0.7" stroke-opacity="0.8"/>
<text x="984.8" y="288.84" font-size="8.0" text-anchor="end" fill="#222">-0.20</text>
<line x1="965.1" y1="286.24" x2="967.1" y2="286.24" stroke="#6b5a48" stroke-width="0.7" stroke-opacity="0.8"/>
<text x="984.8" y="276.47" font-size="8.0" text-anchor="end" fill="#222">-0.10</text>
<line x1="965.1" y1="273.87" x2="967.1" y2="273.87" stroke="#6b5a48" stroke-width="0.7" stroke-opacity="0.8"/>
<text x="984.8" y="264.1" font-size="8.0" text-anchor="end" fill="#222">0.00</text>
<line x1="965.1" y1="261.5" x2="967.1" y2="261.5" stroke="#6b5a48" stroke-width="0.7" stroke-opacity="0.8"/>
<text x="984.8" y="251.73" font-size="8.0" text-anchor="end" fill="#222">0.10</text>
<line x1="965.1" y1="249.13" x2="967.1" y2="249.13" stroke="#6b5a48" stroke-width="0.7" stroke-opacity="0.8"/>
<text x="984.8" y="239.36" font-size="8.0" text-anchor="end" fill="#222">0.20</text>
<line x1="965.1" y1="236.76" x2="967.1" y2="236.76" stroke="#6b5a48" stroke-width="0.7" stroke-opacity="0.8"/>
<text x="984.8" y="226.99" font-size="8.0" text-anchor="end" fill="#222">0.30</text>
<line x1="965.1" y1="224.39" x2="967.1" y2="224.39" stroke="#6b5a48" stroke-width="0.7" stroke-opacity="0.8"/>
<text x="984.8" y="214.62" font-size="8.0" text-anchor="end" fill="#222">0.40</text>
<line x1="965.1" y1="212.02" x2="967.1" y2="212.02" stroke="#6b5a48" stroke-width="0.7" stroke-opacity="0.8"/>
<text x="984.8" y="202.25" font-size="8.0" text-anchor="end" fill="#222">0.50</text>
<line x1="965.1" y1="199.65" x2="967.1" y2="199.65" stroke="#6b5a48" stroke-width="0.7" stroke-opacity="0.8"/>
<text x="967.6" y="704.93" font-size="8.0" text-anchor="start" fill="#222">2280</text>
<line x1="965.1" y1="702.33" x2="967.1" y2="702.33" stroke="#6b5a48" stroke-width="0.7" stroke-opacity="0.8"/>
<text x="967.6" y="689.71" font-size="8.0" text-anchor="start" fill="#222">2300</text>
<line x1="965.1" y1="687.11" x2="967.1" y2="687.11" stroke="#6b5a48" stroke-width="0.7" stroke-opacity="0.8"/>
<text x="967.6" y="674.61" font-size="8.0" text-anchor="start" fill="#222">2320</text>
<line x1="965.1" y1="672.01" x2="967.1" y2="672.01" stroke="#6b5a48" stroke-width="0.7" stroke-opacity="0.8"/>
<text x="967.6" y="659.65" font-size="8.0" text-anchor="start" fill="#222">2340</text>
<line x1="965.1" y1="657.05" x2="967.1" y2="657.05" stroke="#6b5a48" stroke-width="0.7" stroke-opacity="0.8"/>
<text x="967.6" y="644.81" font-size="8.0" text-anchor="start" fill="#222">2360</text>
<line x1="965.1" y1="642.21" x2="967.1" y2="642.21" stroke="#6b5a48" stroke-width="0.7" stroke-opacity="0.8"/>
<text x="967.6" y="630.1" font-size="8.0" text-anchor="start" fill="#222">2380</text>
<line x1="965.1" y1="627.5" x2="967.1" y2="627.5" stroke="#6b5a48" stroke-width="0.7" stroke-opacity="0.8"/>
<text x="967.6" y="615.52" font-size="8.0" text-anchor="start" fill="#222">2400</text>
<line x1="965.1" y1="612.92" x2="967.1" y2="612.92" stroke="#6b5a48" stroke-width="0.7" stroke-opacity="0.8"/>
<text x="967.6" y="601.05" font-size="8.0" text-anchor="start" fill="#222">2420</text>
<line x1="965.1" y1="598.45" x2="967.1" y2="598.45" stroke="#6b5a48" stroke-width="0.7" stroke-opacity="0.8"/>
<text x="967.6" y="586.7" font-size="8.0" text-anchor="start" fill="#222">2440</text>
<line x1="965.1" y1="584.1" x2="967.1" y2="584.1" stroke="#6b5a48" stroke-width="0.7" stroke-opacity="0.8"/>
<text x="967.6" y="572.47" font-size="8.0" text-anchor="start" fill="#222">2460</text>
<line x1="965.1" y1="569.87" x2="967.1" y2="569.87" stroke="#6b5a48" stroke-width="0.7" stroke-opacity="0.8"/>
<text x="967.6" y="558.36" font-size="8.0" text-anchor="start" fill="#222">2480</text>
<line x1="965.1" y1="555.76" x2="967.1" y2="555.76" stroke="#6b5a48" stroke-width="0.7" stroke-opacity="0.8"/>
<text x="967.6" y="544.35" font-size="8.0" text-anchor="start" fill="#222">2500</text>
<line x1="965.1" y1="541.75" x2="967.1" y2="541.75" stroke="#6b5a48" stroke-width="0.7" stroke-opacity="0.8"/>
<text x="967.6" y="530.46" font-size="8.0" text-anchor="start" fill="#222">2520</text>
<line x1="965.1" y1="527.86" x2="967.1" y2="527.86" stroke="#6b5a48" stroke-width="0.7" stroke-opacity="0.8"/>
<text x="967.6" y="516.68" font-size="8.0" text-anchor="start" fill="#222">2540</text>
<line x1="965.1" y1="514.08" x2="967.1" y2="514.08" stroke="#6b5a48" stroke-width="0.7" stroke-opacity="0.8"/>
<text x="967.6" y="503.01" font-size="8.0" text-anchor="start" fill="#222">2560</text>
<line x1="965.1" y1="500.41" x2="967.1" y2="500.41" stroke="#6b5a48" stroke-width="0.7" stroke-opacity="0.8"/>
<text x="967.6" y="489.45" font-size="8.0" text-anchor="start" fill="#222">2580</text>
<line x1="965.1" y1="486.85" x2="967.1" y2="486.85" stroke="#6b5a48" stroke-width="0.7" stroke-opacity="0.8"/>
<text x="967.6" y="475.99" font-size="8.0" text-anchor="start" fill="#222">2600</text>
<line x1="965.1" y1="473.39" x2="967.1" y2="473.39" stroke="#6b5a48" stroke-width="0.7" stroke-opacity="0.8"/>
<text x="967.6" y="462.63" font-size="8.0" text-anchor="start" fill="#222">2620</text>
<line x1="965.1" y1="460.03" x2="967.1" y2="460.03" stroke="#6b5a48" stroke-width="0.7" stroke-opacity="0.8"/>
<text x="967.6" y="449.37" font-size="8.0" text-anchor="start" fill="#222">2640</text>
<line x1="965.1" y1="446.77" x2="967.1" y2="446.77" stroke="#6b5a48" stroke-width="0.7" stroke-opacity="0.8"/>
<text x="967.6" y="436.21" font-size="8.0" text-anchor="start" fill="#222">2660</text>
<line x1="965.1" y1="433.61" x2="967.1" y2="433.61" stroke="#6b5a48" stroke-width="0.7" stroke-opacity="0.8"/>
<text x="967.6" y="423.16" font-size="8.0" text-anchor="start" fill="#222">2680</text>
<line x1="965.1" y1="420.56" x2="967.1" y2="420.56" stroke="#6b5a48" stroke-width="0.7" stroke-opacity="0.8"/>
<text x="967.6" y="410.2" font-size="8.0" text-anchor="start" fill="#222">2700</text>
<line x1="965.1" y1="407.6" x2="967.1" y2="407.6" stroke="#6b5a48" stroke-width="0.7" stroke-opacity="0.8"/>
<text x="967.6" y="397.33" font-size="8.0" text-anchor="start" fill="#222">2720</text>
<line x1="965.1" y1="394.73" x2="967.1" y2="394.73" stroke="#6b5a48" stroke-width="0.7" stroke-opacity="0.8"/>
<text x="967.6" y="384.56" font-size="8.0" text-anchor="start" fill="#222">2740</text>
<line x1="965.1" y1="381.96" x2="967.1" y2="381.96" stroke="#6b5a48" stroke-width="0.7" stroke-opacity="0.8"/>
<text x="967.6" y="371.88" font-size="8.0" text-anchor="start" fill="#222">2760</text>
<line x1="965.1" y1="369.28" x2="967.1" y2="369.28" stroke="#6b5a48" stroke-width="0.7" stroke-opacity="0.8"/>
<text x="967.6" y="359.3" font-size="8.0" text-anchor="start" fill="#222">2780</text>
<line x1="965.1" y1="356.7" x2="967.1" y2="356.7" stroke="#6b5a48" stroke-width="0.7" stroke-opacity="0.8"/>
<text x="967.6" y="346.8" font-size="8.0" text-anchor="start" fill="#222">2800</text>
<line x1="965.1" y1="344.2" x2="967.1" y2="344.2" stroke="#6b5a48" stroke-width="0.7" stroke-opacity="0.8"/>
<text x="967.6" y="334.39" font-size="8.0" text-anchor="start" fill="#222">2820</text>
<line x1="965.1" y1="331.79" x2="967.1" y2="331.79" stroke="#6b5a48" stroke-width="0.7" stroke-opacity="0.8"/>
<text x="978.4" y="847.44" font-size="8.0" text-anchor="end" fill="#222">-20</text>
<line x1="965.1" y1="844.84" x2="967.1" y2="844.84" stroke="#6b5a48" stroke-width="0.7" stroke-opacity="0.8"/>
<text x="978.4" y="833.97" font-size="8.0" text-anchor="end" fill="#222">-10</text>
<line x1="965.1" y1="831.37" x2="967.1" y2="831.37" stroke="#6b5a48" stroke-width="0.7" stroke-opacity="0.8"/>
<text x="978.4" y="820.5" font-size="8.0" text-anchor="end" fill="#222">0</text>
<line x1="965.1" y1="817.9" x2="967.1" y2="817.9" stroke="#6b5a48" stroke-width="0.7" stroke-opacity="0.8"/>
<text x="978.4" y="807.03" font-size="8.0" text-anchor="end" fill="#222">10</text>
<line x1="965.1" y1="804.43" x2="967.1" y2="804.43" stroke="#6b5a48" stroke-width="0.7" stroke-opacity="0.8"/>
<text x="978.4" y="793.56" font-size="8.0" text-anchor="end" fill="#222">20</text>
<line x1="965.1" y1="790.96" x2="967.1" y2="790.96" stroke="#6b5a48" stroke-width="0.7" stroke-opacity="0.8"/>
<text x="978.4" y="780.09" font-size="8.0" text-anchor="end" fill="#222">30</text>
<line x1="965.1" y1="777.49" x2="967.1" y2="777.49" stroke="#6b5a48" stroke-width="0.7" stroke-opacity="0.8"/>
<text x="978.4" y="766.62" font-size="8.0" text-anchor="end" fill="#222">40</text>
<line x1="965.1" y1="764.02" x2="967.1" y2="764.02" stroke="#6b5a48" stroke-width="0.7" stroke-opacity="0.8"/>
<text x="978.4" y="753.15" font-size="8.0" text-anchor="end" fill="#222">50</text>
<line x1="965.1" y1="750.55" x2="967.1" y2="750.55" stroke="#6b5a48" stroke-width="0.7" stroke-opacity="0.8"/>
<text x="978.4" y="739.68" font-size="8.0" text-anchor="end" fill="#222">60</text>
<line x1="965.1" y1="737.08" x2="967.1" y2="737.08" stroke="#6b5a48" stroke-width="0.7" stroke-opacity="0.8"/>
<g clip-path="url(#cpF)">
<path d="M25.57 90.3 L25.57 81.92 L26.75 76.87 L29.28 87.83 L33.15 88.67 L33.77 90.3 Z" fill="#4f7c3e" stroke="none"/>
<path d="M392.29 90.3 L393.97 89.51 L396.5 80.58 L399.03 81.08 L401.05 83.61 L403.24 89.01 L406.11 90.02 L406.26 90.3 Z" fill="#4f7c3e" stroke="none"/>
<path d="M466.08 90.3 L467.33 85.3 L470.37 76.53 L474.08 76.53 L477.45 87.83 L478.35 90.3 Z" fill="#4f7c3e" stroke="none"/>
<path d="M25.57 81.92 L26.75 76.87 L29.28 87.83 L33.15 88.67 L36.02 96.26 L42.77 96.26 L49.51 110.6 L54.57 111.44 L59.13 113.97 L62.16 120.71 L65.2 118.69 L68.07 126.62 L71.44 139.27 L75.32 137.24 L77.85 140.11 L81.56 130.83 L84.93 138.93 L87.46 140.62 L91.68 128.81 L97.58 128.3 L103.48 127.12 L106.86 119.03 L111.07 108.57 L114.44 108.91 L120.35 111.94 L123.72 119.03 L129.62 110.26 L136.03 126.62 L138.9 119.37 L143.96 125.77 L149.02 127.46 L154.92 148.04 L161.67 129.48 L165.38 126.62 L168.41 119.87 L170.61 129.99 L173.47 129.48 L177.69 119.03 L181.06 119.03 L184.43 124.93 L184.72 125.77 L186.75 125.44 L187.81 125.77 L190.96 134.21 L193.83 135.05 L196.53 124.42 L200.24 124.09 L203.61 132.18 L207.32 132.52 L210.02 120.71 L212.04 127.46 L214.57 131.17 L217.95 132.86 L222.16 132.18 L235.65 97.95 L242.4 114.31 L245.44 115.65 L248.3 109.75 L251.68 108.57 L255.05 119.87 L261.8 103.34 L264.33 103.34 L266.86 104.69 L271.07 104.36 L280.85 136.23 L284.9 135.89 L291.31 119.37 L293.84 119.37 L297.21 121.56 L300.08 119.37 L303.45 126.11 L307.33 125.27 L312.9 125.44 L316.61 133.36 L319.14 130.83 L323.35 116.5 L326.73 110.09 L329.26 109.41 L332.63 118.18 L335.5 118.69 L342.53 138.09 L345.06 138.09 L348.1 130.5 L355.18 149.38 L358.55 149.38 L364.45 129.99 L367.83 129.65 L374.57 129.99 L377.95 120.38 L380.48 119.03 L383.85 111.44 L388.91 92.89 L391.44 90.69 L393.97 89.51 L396.5 80.58 L399.03 81.08 L401.05 83.61 L403.24 89.01 L406.11 90.02 L409.48 96.26 L412.52 97.44 L416.23 105.2 L419.27 105.54 L422.64 116.5 L426.35 124.09 L431.91 124.42 L436.13 126.62 L442.03 128.3 L447.94 109.75 L451.31 109.25 L454.68 102.5 L458.39 111.1 L464.8 95.42 L467.33 85.3 L470.37 76.53 L474.08 76.53 L477.45 87.83 L480.82 97.1 L484.2 103.85 L486.73 109.75 L490.61 127.46 L493.47 133.87 L496.51 134.21 L499.88 142.13 L500 142.64 L502.75 143.82 L503.04 143.82 L509.28 157.82 L512.65 158.15 L516.02 159.17 L519.39 159.17 L528.67 136.74 L531.2 138.93 L534.57 135.56 L538.45 129.15 L541.83 129.48 L544.69 127.46 L551.44 108.91 L554.47 105.54 L558.18 113.12 L564.93 113.29 L567.8 112.28 L573.36 132.18 L576.74 127.8 L580.11 127.12 L583.48 131.68 L586.86 141.29 L589.38 133.7 L592.42 138.42 L596.47 146.52 L599.5 141.8 L602.88 139.27 L606.25 148.04 L609.62 153.1 L612.66 158.32 L615.53 148.54 L619.4 146.86 L625.64 127.46 L629.02 111.44 L632.05 112.62 L635.43 122.4 L638.63 113.97 L641.67 107.73" fill="none" stroke="#1a1a1a" stroke-width="1" stroke-linejoin="round"/>
</g>
<g clip-path="url(#cpM)">
<g fill="#4f9fca" stroke="#2a74a3" stroke-width="0.6"><rect x="25" y="808.82" width="3.05" height="9.48"/><rect x="28.07" y="809.3" width="3.2" height="9"/><rect x="31.29" y="810" width="3.2" height="8.3"/><rect x="34.51" y="810.77" width="3.2" height="7.53"/><rect x="37.73" y="812.87" width="3.2" height="5.43"/><rect x="40.95" y="815.55" width="3.2" height="2.75"/><rect x="44.17" y="818.3" width="3.2" height="4.03"/><rect x="47.39" y="818.3" width="3.2" height="8.98"/><rect x="50.61" y="818.3" width="3.2" height="12.79"/><rect x="53.83" y="818.3" width="3.2" height="15.74"/><rect x="57.05" y="818.3" width="3.2" height="16.38"/><rect x="60.28" y="818.3" width="3.2" height="17.86"/><rect x="63.5" y="818.3" width="3.2" height="20.69"/><rect x="66.72" y="818.3" width="3.2" height="21.08"/><rect x="69.94" y="818.3" width="3.2" height="20.99"/><rect x="73.16" y="818.3" width="3.2" height="20.67"/><rect x="76.38" y="818.3" width="3.2" height="18.62"/><rect x="79.6" y="818.3" width="3.2" height="16.71"/><rect x="82.82" y="818.3" width="3.2" height="15.32"/><rect x="86.04" y="818.3" width="3.2" height="12.81"/><rect x="89.26" y="818.3" width="3.2" height="7.58"/><rect x="92.48" y="818.3" width="3.2" height="6.18"/><rect x="95.7" y="818.3" width="3.2" height="4.48"/><rect x="98.92" y="818.3" width="3.2" height="1.15"/><rect x="102.14" y="816.47" width="3.2" height="1.83"/><rect x="105.36" y="813.2" width="3.2" height="5.1"/><rect x="108.58" y="810.19" width="3.2" height="8.11"/><rect x="111.8" y="809.67" width="3.2" height="8.63"/><rect x="115.02" y="812.65" width="3.2" height="5.65"/><rect x="118.24" y="818.3" width="3.2" height="0.3"/><rect x="121.47" y="818.3" width="3.2" height="4.54"/><rect x="124.69" y="818.3" width="3.2" height="6.61"/><rect x="127.91" y="818.3" width="3.2" height="7.15"/><rect x="131.13" y="818.3" width="3.2" height="6.61"/><rect x="134.35" y="818.3" width="3.2" height="7.41"/><rect x="137.57" y="818.3" width="3.2" height="7.38"/><rect x="140.79" y="818.3" width="3.2" height="7.35"/><rect x="144.01" y="818.3" width="3.2" height="6.81"/><rect x="147.23" y="818.3" width="3.2" height="3.87"/><rect x="150.45" y="818.3" width="3.2" height="6.88"/><rect x="153.67" y="818.3" width="3.2" height="9.39"/><rect x="156.89" y="818.3" width="3.2" height="10.27"/><rect x="160.11" y="818.3" width="3.2" height="8.16"/><rect x="163.33" y="818.3" width="3.2" height="8.42"/><rect x="166.55" y="818.3" width="3.2" height="6.67"/><rect x="169.77" y="818.3" width="3.2" height="6.87"/><rect x="172.99" y="818.3" width="3.2" height="4.96"/><rect x="176.21" y="818.3" width="3.2" height="1.85"/><rect x="179.43" y="818.3" width="3.2" height="2.12"/><rect x="182.65" y="818.3" width="3.2" height="2.03"/><rect x="185.88" y="818.3" width="3.2" height="3.07"/><rect x="189.1" y="818.3" width="3.2" height="4.39"/><rect x="192.32" y="818.3" width="3.2" height="3.49"/><rect x="195.54" y="818.3" width="3.2" height="2.45"/><rect x="198.76" y="818.3" width="3.2" height="1.88"/><rect x="201.98" y="818.3" width="3.2" height="1.35"/><rect x="205.2" y="815.19" width="3.2" height="3.11"/><rect x="208.42" y="812" width="3.2" height="6.3"/><rect x="211.64" y="812.45" width="3.2" height="5.85"/><rect x="214.86" y="812.85" width="3.2" height="5.45"/><rect x="218.08" y="812.51" width="3.2" height="5.79"/><rect x="221.3" y="809.1" width="3.2" height="9.2"/><rect x="224.52" y="807.78" width="3.2" height="10.52"/><rect x="227.74" y="805.57" width="3.2" height="12.73"/><rect x="230.96" y="803.43" width="3.2" height="14.87"/><rect x="234.18" y="802.99" width="3.2" height="15.31"/><rect x="237.4" y="803.56" width="3.2" height="14.74"/><rect x="240.62" y="808.57" width="3.2" height="9.73"/><rect x="243.84" y="813.71" width="3.2" height="4.59"/><rect x="247.06" y="816.73" width="3.2" height="1.57"/><rect x="250.28" y="818.07" width="3.2" height="0.3"/><rect x="253.51" y="818.3" width="3.2" height="4.44"/><rect x="256.73" y="818.3" width="3.2" height="7.61"/><rect x="259.95" y="818.3" width="3.2" height="4.42"/><rect x="263.17" y="818.17" width="3.2" height="0.3"/><rect x="266.39" y="814.72" width="3.2" height="3.58"/><rect x="269.61" y="812.46" width="3.2" height="5.84"/><rect x="272.83" y="812.02" width="3.2" height="6.28"/><rect x="276.05" y="813.9" width="3.2" height="4.4"/><rect x="279.27" y="817.89" width="3.2" height="0.41"/><rect x="282.49" y="818.3" width="3.2" height="0.64"/><rect x="285.71" y="817.74" width="3.2" height="0.56"/><rect x="288.93" y="816.33" width="3.2" height="1.97"/><rect x="292.15" y="814.86" width="3.2" height="3.44"/><rect x="295.37" y="813.48" width="3.2" height="4.82"/><rect x="298.59" y="814.75" width="3.2" height="3.55"/><rect x="301.81" y="815.55" width="3.2" height="2.75"/><rect x="305.03" y="813.25" width="3.2" height="5.05"/><rect x="308.25" y="810.95" width="3.2" height="7.35"/><rect x="311.47" y="809.9" width="3.2" height="8.4"/><rect x="314.69" y="810.08" width="3.2" height="8.22"/><rect x="317.92" y="812.74" width="3.2" height="5.56"/><rect x="321.14" y="813.33" width="3.2" height="4.97"/><rect x="324.36" y="813.74" width="3.2" height="4.56"/><rect x="327.58" y="814.91" width="3.2" height="3.39"/><rect x="330.8" y="816.95" width="3.2" height="1.35"/><rect x="334.02" y="818.3" width="3.2" height="0.39"/><rect x="337.24" y="818.3" width="3.2" height="2.27"/><rect x="340.46" y="818.3" width="3.2" height="4.51"/><rect x="343.68" y="818.3" width="3.2" height="6.34"/><rect x="346.9" y="818.3" width="3.2" height="5.78"/><rect x="350.12" y="818.3" width="3.2" height="6.6"/><rect x="353.34" y="818.3" width="3.2" height="7.08"/><rect x="356.56" y="818.3" width="3.2" height="6.92"/><rect x="359.78" y="818.3" width="3.2" height="6.13"/><rect x="363" y="818.3" width="3.2" height="1.65"/><rect x="366.22" y="816.28" width="3.2" height="2.02"/><rect x="369.44" y="813.65" width="3.2" height="4.65"/><rect x="372.66" y="813.93" width="3.2" height="4.37"/><rect x="375.88" y="814.7" width="3.2" height="3.6"/><rect x="379.1" y="814.81" width="3.2" height="3.49"/><rect x="382.33" y="813.17" width="3.2" height="5.13"/><rect x="385.55" y="810.81" width="3.2" height="7.49"/><rect x="388.77" y="808.99" width="3.2" height="9.31"/><rect x="391.99" y="807.42" width="3.2" height="10.88"/><rect x="395.21" y="806.38" width="3.2" height="11.92"/><rect x="398.43" y="808.91" width="3.2" height="9.39"/><rect x="401.65" y="812.65" width="3.2" height="5.65"/><rect x="404.87" y="813.91" width="3.2" height="4.39"/><rect x="408.09" y="816.2" width="3.2" height="2.1"/><rect x="411.31" y="818.3" width="3.2" height="0.3"/><rect x="414.53" y="818.3" width="3.2" height="2.31"/><rect x="417.75" y="818.3" width="3.2" height="4.22"/><rect x="420.97" y="818.3" width="3.2" height="7.48"/><rect x="424.19" y="818.3" width="3.2" height="9.95"/><rect x="427.41" y="818.3" width="3.2" height="11.37"/><rect x="430.63" y="818.3" width="3.2" height="9.03"/><rect x="433.85" y="818.3" width="3.2" height="8.21"/><rect x="437.07" y="818.3" width="3.2" height="6.85"/><rect x="440.29" y="818.3" width="3.2" height="4.38"/><rect x="443.51" y="818.3" width="3.2" height="1.27"/><rect x="446.74" y="816.77" width="3.2" height="1.53"/><rect x="449.96" y="814.12" width="3.2" height="4.18"/><rect x="453.18" y="811.75" width="3.2" height="6.55"/><rect x="456.4" y="812.55" width="3.2" height="5.75"/><rect x="459.62" y="812.95" width="3.2" height="5.35"/><rect x="462.84" y="813.3" width="3.2" height="5"/><rect x="466.06" y="813.38" width="3.2" height="4.92"/><rect x="469.28" y="812.78" width="3.2" height="5.52"/><rect x="472.5" y="810.74" width="3.2" height="7.56"/><rect x="475.72" y="814.84" width="3.2" height="3.46"/><rect x="478.94" y="818.28" width="3.2" height="0.3"/><rect x="482.16" y="818.3" width="3.2" height="2.79"/><rect x="485.38" y="818.3" width="3.2" height="5.7"/><rect x="488.6" y="818.3" width="3.2" height="12.86"/><rect x="491.82" y="818.3" width="3.2" height="13.65"/><rect x="495.04" y="818.3" width="3.2" height="16.39"/><rect x="498.26" y="818.3" width="3.2" height="24.54"/><rect x="501.48" y="818.3" width="3.2" height="29.68"/><rect x="504.7" y="818.3" width="3.2" height="32.77"/><rect x="507.92" y="818.3" width="3.2" height="33.2"/><rect x="511.15" y="818.3" width="3.2" height="33.27"/><rect x="514.37" y="818.3" width="3.2" height="28.51"/><rect x="517.59" y="818.3" width="3.2" height="22.67"/><rect x="520.81" y="818.3" width="3.2" height="13.97"/><rect x="524.03" y="818.3" width="3.2" height="5.92"/><rect x="527.25" y="816.73" width="3.2" height="1.57"/><rect x="530.47" y="818.3" width="3.2" height="0.35"/><rect x="533.69" y="818.3" width="3.2" height="1.96"/><rect x="536.91" y="817.19" width="3.2" height="1.11"/><rect x="540.13" y="815.23" width="3.2" height="3.07"/><rect x="543.35" y="814.44" width="3.2" height="3.86"/><rect x="546.57" y="813.53" width="3.2" height="4.77"/><rect x="549.79" y="812.03" width="3.2" height="6.27"/><rect x="553.01" y="813.55" width="3.2" height="4.75"/><rect x="556.23" y="814.75" width="3.2" height="3.55"/><rect x="559.45" y="813.01" width="3.2" height="5.29"/><rect x="562.67" y="808.81" width="3.2" height="9.49"/><rect x="565.89" y="804.68" width="3.2" height="13.62"/><rect x="569.11" y="805.5" width="3.2" height="12.8"/><rect x="572.34" y="809.06" width="3.2" height="9.24"/><rect x="575.56" y="812.51" width="3.2" height="5.79"/><rect x="578.78" y="816.64" width="3.2" height="1.66"/><rect x="582" y="818.3" width="3.2" height="1.42"/><rect x="585.22" y="818.3" width="3.2" height="5.38"/><rect x="588.44" y="818.3" width="3.2" height="6.82"/><rect x="591.66" y="818.3" width="3.2" height="7.21"/><rect x="594.88" y="818.3" width="3.2" height="6.94"/><rect x="598.1" y="818.3" width="3.2" height="5.53"/><rect x="601.32" y="818.3" width="3.2" height="5.79"/><rect x="604.54" y="818.3" width="3.2" height="6.2"/><rect x="607.76" y="818.3" width="3.2" height="4.36"/><rect x="610.98" y="818.3" width="3.2" height="0.99"/><rect x="614.2" y="817.46" width="3.2" height="0.84"/><rect x="617.42" y="816.83" width="3.2" height="1.47"/><rect x="620.64" y="815.94" width="3.2" height="2.36"/><rect x="623.86" y="813.79" width="3.2" height="4.51"/><rect x="627.08" y="810.75" width="3.2" height="7.55"/><rect x="630.3" y="810.16" width="3.2" height="8.14"/><rect x="633.52" y="810.34" width="3.2" height="7.96"/><rect x="636.75" y="807.92" width="3.2" height="10.38"/><rect x="639.97" y="804.95" width="3.2" height="13.35"/></g>
<path d="M25.57 743.27 L30.12 739.39 L36.02 736.02 L41.08 734.34 L43.61 734.34 L47.83 736.87 L53.73 743.61 L59.63 750.36 L65.54 757.95 L70.6 767.22 L75.65 774.81 L80.71 781.56 L85.77 787.12 L90.83 790.83 L95.89 793.03 L100.95 793.53 L106.01 792.52 L111.07 789.15 L114.44 787.12 L117.82 786.62 L121.19 787.8 L126.25 790.83 L131.31 794.21 L138.06 798.42 L144.8 801.8 L149.86 803.48 L154.92 806.86 L159.98 810.23 L165.04 813.6 L170.1 816.47 L175.16 818.32 L180 820.35 L180.22 819.5 L186.75 820.35 L191.81 822.03 L196.87 823.21 L201.92 823.38 L206.98 822.88 L212.04 819.5 L217.1 817.48 L222.16 814.44 L227.22 809.38 L232.28 803.48 L237.34 796.74 L242.4 793.87 L247.46 793.03 L252.52 794.21 L257.58 797.24 L262.64 798.42 L266.01 797.58 L271.07 795.05 L276.13 793.03 L281.19 791.68 L285.41 792.86 L289.62 792.18 L294.68 789.48 L299.74 787.46 L304.8 784.93 L309.86 782.06 L314.92 779.03 L319.98 777 L325.04 775.32 L330.1 773.97 L335.16 773.46 L340 774.81 L340.22 774.81 L345.06 777 L350.12 779.87 L355.18 782.74 L360.24 785.44 L365.3 786.62 L370.36 784.93 L375.42 783.24 L380.48 780.71 L385.54 778.18 L390.6 773.97 L395.65 769.75 L400.71 766.38 L405.77 764.19 L410.83 763.01 L415.89 763.51 L420.95 766.38 L426.01 770.6 L431.07 774.81 L436.13 777.68 L441.19 779.87 L446.25 780.71 L451.31 779.37 L456.37 777.34 L461.43 775.32 L466.49 773.63 L471.55 771.44 L476.61 769.75 L481.67 769.41 L486.73 770.6 L490.94 775.65 L495.16 781.56 L499.38 787.46 L500 787.46 L505.06 800.95 L510.12 816.13 L515.18 826.25 L520.24 833 L525.3 835.53 L530.36 835.53 L535.42 836.03 L540.48 834.68 L545.54 832.15 L550.6 830.47 L555.65 828.78 L560.71 826.25 L565.77 822.03 L570.83 816.97 L575.89 814.78 L580.11 813.26 L584.33 815.29 L589.38 818.15 L594.44 821.19 L599.5 823.21 L604.56 825.74 L609.62 827.6 L614.68 828.27 L619.74 827.94 L624.8 825.91 L629.86 823.21 L634.92 820.35 L638.29 817.82 L641.67 815.29" fill="none" stroke="#f01818" stroke-width="1" stroke-linejoin="round"/>
<path d="M43.27 732.14 L45.3 738.55 L50.36 750.36 L54.57 760.14 L60.48 768.07 L65.54 779.03 L70.6 788.3 L74.81 794.21 L79.87 797.92 L84.93 801.29 L87.46 801.46 L90.83 798.42 L94.21 798.42 L97.58 797.58 L102.64 792.52 L106.01 788.3 L110.23 781.56 L112.76 779.03 L115.29 779.37 L117.82 782.74 L121.19 790.83 L125.41 796.74 L130.47 800.95 L133 801.8 L137.21 805.67 L140.59 806.86 L143.96 808.88 L146.49 808.88 L149.02 806.86 L151.55 811.07 L154.92 816.13 L158.29 819.5 L161.67 819.5 L165.04 822.03 L168.41 822.03 L171.79 824.06 L175.16 822.88 L178.53 820.85 L181.9 822.03 L184.22 822.03 L187.59 823.72 L190.96 826.25 L195.18 825.91 L199.39 825.41 L203.61 824.56 L206.98 819.5 L209.51 814.78 L212.89 813.26 L216.26 812.42 L219.63 810.23 L223.01 804.33 L227.22 798.42 L230.6 791.68 L233.97 785.77 L237.34 781.56 L239.03 781.05 L241.56 783.24 L244.93 788.3 L249.15 792.18 L252.52 794.21 L255.05 800.11 L258.42 805.17 L260.95 803.48 L264.33 798.42 L267.7 793.36 L271.91 788.3 L275.29 787.12 L277.82 788.3 L281.19 791.68 L284.56 793.36 L287.94 791.68 L291.31 789.15 L296.37 783.75 L299.74 783.75 L303.12 783.24 L306.49 779.03 L310.7 773.63 L314.92 770.26 L317.45 770.26 L319.98 771.94 L323.35 770.93 L327.57 770.26 L330.94 771.44 L334.32 773.63 L336.85 774.31 L340 778.18 L340.22 778.18 L343.37 781.56 L345.9 784.09 L349.28 784.93 L352.65 788.3 L356.87 790.83 L361.08 792.18 L364.45 788.3 L367.83 783.75 L371.2 779.87 L375.42 779.03 L379.63 778.18 L383.85 773.97 L388.07 768.07 L392.28 762.16 L396.5 757.1 L399.03 756.77 L403.24 759.63 L406.62 759.63 L409.99 761.32 L414.21 764.19 L418.42 768.07 L421.8 773.97 L426.01 780.71 L429.38 784.93 L432.76 784.42 L436.97 786.11 L441.19 784.93 L445.41 781.56 L449.62 777.34 L454.68 771.44 L458.06 770.93 L462.27 769.75 L466.49 768.91 L470.7 766.38 L474.08 763.01 L476.61 765.54 L480.82 769.75 L484.2 773.12 L487.57 777.34 L490.1 787.46 L494.32 794.21 L497.69 802.64 L500 809.38 L503.37 822.88 L507.59 838.06 L511.81 849.86 L515.18 852.39 L518.55 852.05 L521.92 849.02 L525.3 842.27 L528.67 833.84 L532.04 836.03 L535.42 838.06 L539.63 832.66 L543.85 829.29 L548.07 826.59 L552.28 823.21 L555.65 824.9 L559.03 823.72 L562.4 818.66 L566.62 807.7 L569.99 803.82 L573.36 806.01 L578.42 809.38 L582.64 814.44 L586.01 821.19 L589.38 824.9 L593.6 827.94 L596.97 829.12 L600.35 828.78 L603.72 831.31 L607.09 833 L610.47 831.31 L613.84 827.6 L618.06 827.09 L622.27 824.56 L625.64 820.85 L629.02 815.79 L632.39 813.6 L635.76 811.91 L639.14 806.01 L642 801.29" fill="none" stroke="#111" stroke-width="1.5" stroke-linejoin="round"/>
<line x1="393.6" y1="750.9" x2="493.85" y2="760.86" stroke="#f01010" stroke-width="1.8"/>
<polygon points="503.3,761.8 493.45,764.84 494.24,756.88" fill="#f01010"/>
</g>
<g clip-path="url(#cpP)">
<path d="M86.67 712.82 L95.91 704.42 L105.99 692.66 L116.06 683.42 L122.78 680.9 L129.5 677.88 L136.22 674.18 L140 673.3 L146.7 670 L152.3 668.9 L162.4 668.5 L172.5 666.1 L179.2 665 L187 665 L196 665.2 L203.8 664.7 L211.7 662.2 L218.4 659.9 L225.1 654.9 L232.9 648.2 L240 642 L248.99 639.6 L259.06 634.22 L272.5 624.98 L282.58 620.78 L292.66 614.06 L328.63 580 L340.39 571.94 L360.55 560.18 L373.99 547.58 L384.06 537.5 L397.5 520.71 L407.58 508.11 L421.02 494.67 L431.1 487.95 L442.99 480 L452.23 467.74 L463.99 453.46 L474.06 442.54 L484.14 435.49 L494.22 432.8 L500.94 432.8 L503.52 435.59 L507.66 436.66 L511.91 440.29 L514.38 440.02 L519.42 441.2 L526.14 440.02 L530.39 441.47 L540.47 440.29 L550.55 438.61 L560.63 437.27 L569.03 433.07 L574.06 432.23 L584.14 433.07 L594.22 435.59 L604.3 437.27 L614.38 438.11 L623.59 436.15 L630 435.59 L634.79 433.91 L642.07 430.55" fill="none" stroke="#de3044" stroke-width="0.85" stroke-linejoin="round"/>
<line x1="26.45" y1="577.6" x2="26.45" y2="649.83" stroke="#dc1437" stroke-width="1"/><rect x="24.8" y="621.27" width="3.3" height="21.84" fill="#dc1437"/><line x1="29.67" y1="610.02" x2="29.67" y2="626.31" stroke="#111" stroke-width="0.9"/><line x1="29.67" y1="636.39" x2="29.67" y2="657.39" stroke="#111" stroke-width="0.9"/><rect x="28.42" y="626.31" width="2.5" height="10.08" fill="#e4dec2" fill-opacity="0.35" stroke="#0a0a0a" stroke-width="0.9"/><line x1="32.89" y1="602.79" x2="32.89" y2="606.99" stroke="#111" stroke-width="0.9"/><line x1="32.89" y1="614.55" x2="32.89" y2="628.83" stroke="#111" stroke-width="0.9"/><rect x="31.64" y="606.99" width="2.5" height="7.56" fill="#e4dec2" fill-opacity="0.35" stroke="#0a0a0a" stroke-width="0.9"/><line x1="36.11" y1="603.97" x2="36.11" y2="634.71" stroke="#dc1437" stroke-width="1"/><rect x="34.46" y="614.55" width="3.3" height="8.4" fill="#dc1437"/><line x1="39.33" y1="606.99" x2="39.33" y2="615.39" stroke="#111" stroke-width="0.9"/><line x1="39.33" y1="630.17" x2="39.33" y2="630.85" stroke="#111" stroke-width="0.9"/><rect x="38.08" y="615.39" width="2.5" height="14.78" fill="#e4dec2" fill-opacity="0.35" stroke="#0a0a0a" stroke-width="0.9"/><line x1="42.55" y1="589.02" x2="42.55" y2="603.3" stroke="#111" stroke-width="0.9"/><line x1="42.55" y1="617.91" x2="42.55" y2="622.95" stroke="#111" stroke-width="0.9"/><rect x="41.3" y="603.3" width="2.5" height="14.61" fill="#e4dec2" fill-opacity="0.35" stroke="#0a0a0a" stroke-width="0.9"/><line x1="45.77" y1="610.02" x2="45.77" y2="659.9" stroke="#dc1437" stroke-width="1"/><rect x="44.12" y="610.02" width="3.3" height="43.67" fill="#dc1437"/><line x1="48.99" y1="648.99" x2="48.99" y2="685.1" stroke="#dc1437" stroke-width="1"/><rect x="47.34" y="659.06" width="3.3" height="2.52" fill="#dc1437"/><line x1="52.21" y1="648.99" x2="52.21" y2="665.78" stroke="#dc1437" stroke-width="1"/><rect x="50.56" y="658.23" width="3.3" height="2.52" fill="#dc1437"/><line x1="55.43" y1="643.95" x2="55.43" y2="656.21" stroke="#111" stroke-width="0.9"/><line x1="55.43" y1="667.46" x2="55.43" y2="675.02" stroke="#111" stroke-width="0.9"/><rect x="54.18" y="656.21" width="2.5" height="11.25" fill="#e4dec2" fill-opacity="0.35" stroke="#0a0a0a" stroke-width="0.9"/><line x1="58.66" y1="640.25" x2="58.66" y2="652.01" stroke="#111" stroke-width="0.9"/><line x1="58.66" y1="654.36" x2="58.66" y2="659.9" stroke="#111" stroke-width="0.9"/><rect x="57.41" y="652.01" width="2.5" height="2.35" fill="#e4dec2" fill-opacity="0.35" stroke="#0a0a0a" stroke-width="0.9"/><line x1="61.88" y1="640.59" x2="61.88" y2="643.95" stroke="#111" stroke-width="0.9"/><line x1="61.88" y1="652.35" x2="61.88" y2="659.06" stroke="#111" stroke-width="0.9"/><rect x="60.63" y="643.95" width="2.5" height="8.4" fill="#e4dec2" fill-opacity="0.35" stroke="#0a0a0a" stroke-width="0.9"/><line x1="65.1" y1="652.01" x2="65.1" y2="690.98" stroke="#dc1437" stroke-width="1"/><rect x="63.45" y="652.35" width="3.3" height="28.56" fill="#dc1437"/><line x1="68.32" y1="658.23" x2="68.32" y2="679.73" stroke="#111" stroke-width="0.9"/><line x1="68.32" y1="689.3" x2="68.32" y2="695.18" stroke="#111" stroke-width="0.9"/><rect x="67.07" y="679.73" width="2.5" height="9.57" fill="#e4dec2" fill-opacity="0.35" stroke="#0a0a0a" stroke-width="0.9"/><line x1="71.54" y1="659.9" x2="71.54" y2="692.66" stroke="#dc1437" stroke-width="1"/><rect x="69.89" y="664.94" width="3.3" height="15.96" fill="#dc1437"/><line x1="74.76" y1="674.18" x2="74.76" y2="699.38" stroke="#dc1437" stroke-width="1"/><rect x="73.11" y="676.7" width="3.3" height="5.04" fill="#dc1437"/><line x1="77.98" y1="656.55" x2="77.98" y2="664.1" stroke="#111" stroke-width="0.9"/><line x1="77.98" y1="678.38" x2="77.98" y2="687.62" stroke="#111" stroke-width="0.9"/><rect x="76.73" y="664.1" width="2.5" height="14.28" fill="#e4dec2" fill-opacity="0.35" stroke="#0a0a0a" stroke-width="0.9"/><line x1="81.2" y1="659.06" x2="81.2" y2="674.18" stroke="#dc1437" stroke-width="1"/><rect x="79.55" y="661.58" width="3.3" height="8.4" fill="#dc1437"/><line x1="84.42" y1="665.78" x2="84.42" y2="679.22" stroke="#dc1437" stroke-width="1"/><rect x="82.77" y="670.49" width="3.3" height="1.34" fill="#dc1437"/><line x1="87.64" y1="647.31" x2="87.64" y2="657.39" stroke="#111" stroke-width="0.9"/><line x1="87.64" y1="675.53" x2="87.64" y2="679.22" stroke="#111" stroke-width="0.9"/><rect x="86.39" y="657.39" width="2.5" height="18.14" fill="#e4dec2" fill-opacity="0.35" stroke="#0a0a0a" stroke-width="0.9"/><line x1="90.86" y1="624.63" x2="90.86" y2="631.35" stroke="#111" stroke-width="0.9"/><line x1="90.86" y1="648.15" x2="90.86" y2="648.99" stroke="#111" stroke-width="0.9"/><rect x="89.61" y="631.35" width="2.5" height="16.8" fill="#e4dec2" fill-opacity="0.35" stroke="#0a0a0a" stroke-width="0.9"/><line x1="94.08" y1="635.55" x2="94.08" y2="659.9" stroke="#dc1437" stroke-width="1"/><rect x="92.43" y="635.55" width="3.3" height="20.16" fill="#dc1437"/><line x1="97.3" y1="639.75" x2="97.3" y2="642.27" stroke="#111" stroke-width="0.9"/><line x1="97.3" y1="657.05" x2="97.3" y2="659.06" stroke="#111" stroke-width="0.9"/><rect x="96.05" y="642.27" width="2.5" height="14.78" fill="#e4dec2" fill-opacity="0.35" stroke="#0a0a0a" stroke-width="0.9"/><line x1="100.52" y1="616.23" x2="100.52" y2="616.74" stroke="#111" stroke-width="0.9"/><line x1="100.52" y1="641.43" x2="100.52" y2="644.79" stroke="#111" stroke-width="0.9"/><rect x="99.27" y="616.74" width="2.5" height="24.69" fill="#e4dec2" fill-opacity="0.35" stroke="#0a0a0a" stroke-width="0.9"/><line x1="103.74" y1="612.03" x2="103.74" y2="632.19" stroke="#dc1437" stroke-width="1"/><rect x="102.09" y="620.1" width="3.3" height="3.7" fill="#dc1437"/><line x1="106.96" y1="596.08" x2="106.96" y2="601.11" stroke="#111" stroke-width="0.9"/><line x1="106.96" y1="627.15" x2="106.96" y2="629.67" stroke="#111" stroke-width="0.9"/><rect x="105.71" y="601.11" width="2.5" height="26.04" fill="#e4dec2" fill-opacity="0.35" stroke="#0a0a0a" stroke-width="0.9"/><line x1="110.18" y1="574.24" x2="110.18" y2="585.16" stroke="#111" stroke-width="0.9"/><line x1="110.18" y1="596.91" x2="110.18" y2="601.11" stroke="#111" stroke-width="0.9"/><rect x="108.93" y="585.16" width="2.5" height="11.76" fill="#e4dec2" fill-opacity="0.35" stroke="#0a0a0a" stroke-width="0.9"/><line x1="113.4" y1="586" x2="113.4" y2="607.83" stroke="#dc1437" stroke-width="1"/><rect x="111.75" y="590.2" width="3.3" height="5.04" fill="#dc1437"/><line x1="116.62" y1="590.2" x2="116.62" y2="629.67" stroke="#dc1437" stroke-width="1"/><rect x="114.97" y="594.9" width="3.3" height="23.85" fill="#dc1437"/><line x1="119.84" y1="623.79" x2="119.84" y2="667.46" stroke="#dc1437" stroke-width="1"/><rect x="118.19" y="625.81" width="3.3" height="34.94" fill="#dc1437"/><line x1="123.06" y1="652.35" x2="123.06" y2="668.3" stroke="#dc1437" stroke-width="1"/><rect x="121.41" y="662.09" width="3.3" height="2.86" fill="#dc1437"/><line x1="126.29" y1="638.07" x2="126.29" y2="645.96" stroke="#111" stroke-width="0.9"/><line x1="126.29" y1="659.9" x2="126.29" y2="663.26" stroke="#111" stroke-width="0.9"/><rect x="125.04" y="645.96" width="2.5" height="13.94" fill="#e4dec2" fill-opacity="0.35" stroke="#0a0a0a" stroke-width="0.9"/><line x1="129.51" y1="623.79" x2="129.51" y2="645.63" stroke="#111" stroke-width="0.9"/><rect x="127.86" y="624.13" width="3.3" height="15.62" fill="#111"/><line x1="132.73" y1="632.19" x2="132.73" y2="636.39" stroke="#111" stroke-width="0.9"/><line x1="132.73" y1="642.27" x2="132.73" y2="643.95" stroke="#111" stroke-width="0.9"/><rect x="131.48" y="636.39" width="2.5" height="5.88" fill="#e4dec2" fill-opacity="0.35" stroke="#0a0a0a" stroke-width="0.9"/><line x1="135.95" y1="627.15" x2="135.95" y2="655.71" stroke="#dc1437" stroke-width="1"/><rect x="134.3" y="638.91" width="3.3" height="15.12" fill="#dc1437"/><line x1="139.17" y1="631.35" x2="139.17" y2="636.39" stroke="#111" stroke-width="0.9"/><line x1="139.17" y1="651.51" x2="139.17" y2="661.58" stroke="#111" stroke-width="0.9"/><rect x="137.92" y="636.39" width="2.5" height="15.12" fill="#e4dec2" fill-opacity="0.35" stroke="#0a0a0a" stroke-width="0.9"/><line x1="142.39" y1="632.47" x2="142.39" y2="661.03" stroke="#dc1437" stroke-width="1"/><rect x="140.74" y="634.71" width="3.3" height="17.36" fill="#dc1437"/><line x1="145.61" y1="629.68" x2="145.61" y2="631.35" stroke="#111" stroke-width="0.9"/><line x1="145.61" y1="652.07" x2="145.61" y2="653.75" stroke="#111" stroke-width="0.9"/><rect x="144.36" y="631.35" width="2.5" height="20.72" fill="#e4dec2" fill-opacity="0.35" stroke="#0a0a0a" stroke-width="0.9"/><line x1="148.83" y1="615.12" x2="148.83" y2="620.16" stroke="#111" stroke-width="0.9"/><line x1="148.83" y1="631.91" x2="148.83" y2="633.59" stroke="#111" stroke-width="0.9"/><rect x="147.58" y="620.16" width="2.5" height="11.76" fill="#e4dec2" fill-opacity="0.35" stroke="#0a0a0a" stroke-width="0.9"/><line x1="152.05" y1="608.4" x2="152.05" y2="684.55" stroke="#dc1437" stroke-width="1"/><rect x="150.4" y="616.24" width="3.3" height="52.07" fill="#dc1437"/><line x1="155.27" y1="664.39" x2="155.27" y2="667.19" stroke="#111" stroke-width="0.9"/><line x1="155.27" y1="679.51" x2="155.27" y2="684.55" stroke="#111" stroke-width="0.9"/><rect x="154.02" y="667.19" width="2.5" height="12.32" fill="#e4dec2" fill-opacity="0.35" stroke="#0a0a0a" stroke-width="0.9"/><line x1="158.49" y1="659.91" x2="158.49" y2="676.71" stroke="#dc1437" stroke-width="1"/><rect x="156.84" y="665.51" width="3.3" height="3.36" fill="#dc1437"/><line x1="161.71" y1="643.11" x2="161.71" y2="646.47" stroke="#111" stroke-width="0.9"/><line x1="161.71" y1="662.15" x2="161.71" y2="664.95" stroke="#111" stroke-width="0.9"/><rect x="160.46" y="646.47" width="2.5" height="15.68" fill="#e4dec2" fill-opacity="0.35" stroke="#0a0a0a" stroke-width="0.9"/><line x1="164.93" y1="655.99" x2="164.93" y2="679.51" stroke="#dc1437" stroke-width="1"/><rect x="163.28" y="656.55" width="3.3" height="17.92" fill="#dc1437"/><line x1="168.15" y1="648.71" x2="168.15" y2="650.95" stroke="#111" stroke-width="0.9"/><line x1="168.15" y1="673.35" x2="168.15" y2="675.59" stroke="#111" stroke-width="0.9"/><rect x="166.9" y="650.95" width="2.5" height="22.4" fill="#e4dec2" fill-opacity="0.35" stroke="#0a0a0a" stroke-width="0.9"/><line x1="171.37" y1="647.59" x2="171.37" y2="669.43" stroke="#dc1437" stroke-width="1"/><rect x="169.72" y="651.29" width="3.3" height="14.78" fill="#dc1437"/><line x1="174.59" y1="649.27" x2="174.59" y2="652.41" stroke="#111" stroke-width="0.9"/><line x1="174.59" y1="662.71" x2="174.59" y2="672.23" stroke="#111" stroke-width="0.9"/><rect x="173.34" y="652.41" width="2.5" height="10.3" fill="#e4dec2" fill-opacity="0.35" stroke="#0a0a0a" stroke-width="0.9"/><line x1="177.81" y1="628" x2="177.81" y2="636.06" stroke="#111" stroke-width="0.9"/><line x1="177.81" y1="654.65" x2="177.81" y2="655.43" stroke="#111" stroke-width="0.9"/><rect x="176.56" y="636.06" width="2.5" height="18.59" fill="#e4dec2" fill-opacity="0.35" stroke="#0a0a0a" stroke-width="0.9"/><line x1="181.03" y1="626.32" x2="181.03" y2="665.51" stroke="#dc1437" stroke-width="1"/><rect x="179.38" y="631.91" width="3.3" height="33.03" fill="#dc1437"/><line x1="184.25" y1="652.07" x2="184.25" y2="654.31" stroke="#111" stroke-width="0.9"/><line x1="184.25" y1="662.71" x2="184.25" y2="665.51" stroke="#111" stroke-width="0.9"/><rect x="183" y="654.31" width="2.5" height="8.4" fill="#e4dec2" fill-opacity="0.35" stroke="#0a0a0a" stroke-width="0.9"/><line x1="187.47" y1="649.83" x2="187.47" y2="667.19" stroke="#dc1437" stroke-width="1"/><rect x="185.82" y="650.95" width="3.3" height="11.76" fill="#dc1437"/><line x1="190.7" y1="663.83" x2="190.7" y2="685.11" stroke="#dc1437" stroke-width="1"/><rect x="189.05" y="663.83" width="3.3" height="14.56" fill="#dc1437"/><line x1="193.92" y1="655.99" x2="193.92" y2="660.47" stroke="#111" stroke-width="0.9"/><line x1="193.92" y1="680.63" x2="193.92" y2="682.31" stroke="#111" stroke-width="0.9"/><rect x="192.67" y="660.47" width="2.5" height="20.16" fill="#e4dec2" fill-opacity="0.35" stroke="#0a0a0a" stroke-width="0.9"/><line x1="197.14" y1="649.27" x2="197.14" y2="657.89" stroke="#111" stroke-width="0.9"/><line x1="197.14" y1="658.79" x2="197.14" y2="664.95" stroke="#111" stroke-width="0.9"/><rect x="195.89" y="657.89" width="2.5" height="0.9" fill="#e4dec2" fill-opacity="0.35" stroke="#0a0a0a" stroke-width="0.9"/><line x1="200.36" y1="650.95" x2="200.36" y2="667.19" stroke="#dc1437" stroke-width="1"/><rect x="198.71" y="658.79" width="3.3" height="1.68" fill="#dc1437"/><line x1="203.58" y1="653.19" x2="203.58" y2="667.19" stroke="#dc1437" stroke-width="1"/><rect x="201.93" y="657.11" width="3.3" height="5.04" fill="#dc1437"/><line x1="206.8" y1="631.91" x2="206.8" y2="635.83" stroke="#111" stroke-width="0.9"/><line x1="206.8" y1="659.35" x2="206.8" y2="661.59" stroke="#111" stroke-width="0.9"/><rect x="205.55" y="635.83" width="2.5" height="23.52" fill="#e4dec2" fill-opacity="0.35" stroke="#0a0a0a" stroke-width="0.9"/><line x1="210.02" y1="612.88" x2="210.02" y2="615.12" stroke="#111" stroke-width="0.9"/><line x1="210.02" y1="638.63" x2="210.02" y2="645.35" stroke="#111" stroke-width="0.9"/><rect x="208.77" y="615.12" width="2.5" height="23.52" fill="#e4dec2" fill-opacity="0.35" stroke="#0a0a0a" stroke-width="0.9"/><line x1="213.24" y1="614" x2="213.24" y2="644.79" stroke="#dc1437" stroke-width="1"/><rect x="211.59" y="615.68" width="3.3" height="24.08" fill="#dc1437"/><line x1="216.46" y1="629.12" x2="216.46" y2="636.95" stroke="#111" stroke-width="0.9"/><line x1="216.46" y1="637.96" x2="216.46" y2="645.91" stroke="#111" stroke-width="0.9"/><rect x="215.21" y="636.95" width="2.5" height="1.01" fill="#e4dec2" fill-opacity="0.35" stroke="#0a0a0a" stroke-width="0.9"/><line x1="219.68" y1="618.48" x2="219.68" y2="628" stroke="#111" stroke-width="0.9"/><line x1="219.68" y1="635.27" x2="219.68" y2="635.83" stroke="#111" stroke-width="0.9"/><rect x="218.43" y="628" width="2.5" height="7.28" fill="#e4dec2" fill-opacity="0.35" stroke="#0a0a0a" stroke-width="0.9"/><line x1="222.9" y1="591.39" x2="222.9" y2="598.11" stroke="#111" stroke-width="0.9"/><line x1="222.9" y1="630.02" x2="222.9" y2="630.86" stroke="#111" stroke-width="0.9"/><rect x="221.65" y="598.11" width="2.5" height="31.91" fill="#e4dec2" fill-opacity="0.35" stroke="#0a0a0a" stroke-width="0.9"/><line x1="226.12" y1="596.43" x2="226.12" y2="617.42" stroke="#dc1437" stroke-width="1"/><rect x="224.47" y="596.93" width="3.3" height="2.35" fill="#dc1437"/><line x1="229.34" y1="581.31" x2="229.34" y2="593.07" stroke="#111" stroke-width="0.9"/><line x1="229.34" y1="598.95" x2="229.34" y2="600.63" stroke="#111" stroke-width="0.9"/><rect x="228.09" y="593.07" width="2.5" height="5.88" fill="#e4dec2" fill-opacity="0.35" stroke="#0a0a0a" stroke-width="0.9"/><line x1="232.56" y1="560.31" x2="232.56" y2="564.51" stroke="#111" stroke-width="0.9"/><line x1="232.56" y1="593.91" x2="232.56" y2="595.59" stroke="#111" stroke-width="0.9"/><rect x="231.31" y="564.51" width="2.5" height="29.4" fill="#e4dec2" fill-opacity="0.35" stroke="#0a0a0a" stroke-width="0.9"/><line x1="235.78" y1="549.9" x2="235.78" y2="572.07" stroke="#dc1437" stroke-width="1"/><rect x="234.13" y="561.15" width="3.3" height="8.4" fill="#dc1437"/><line x1="239" y1="557.79" x2="239" y2="582.99" stroke="#dc1437" stroke-width="1"/><rect x="237.35" y="568.38" width="3.3" height="4.54" fill="#dc1437"/><line x1="242.22" y1="578.79" x2="242.22" y2="617.42" stroke="#dc1437" stroke-width="1"/><rect x="240.57" y="578.79" width="3.3" height="36.95" fill="#dc1437"/><line x1="245.44" y1="602.31" x2="245.44" y2="624.98" stroke="#dc1437" stroke-width="1"/><rect x="243.79" y="610.71" width="3.3" height="7.56" fill="#dc1437"/><line x1="248.66" y1="604.83" x2="248.66" y2="608.69" stroke="#111" stroke-width="0.9"/><line x1="248.66" y1="615.41" x2="248.66" y2="620.78" stroke="#111" stroke-width="0.9"/><rect x="247.41" y="608.69" width="2.5" height="6.72" fill="#e4dec2" fill-opacity="0.35" stroke="#0a0a0a" stroke-width="0.9"/><line x1="251.88" y1="589.71" x2="251.88" y2="602.31" stroke="#111" stroke-width="0.9"/><line x1="251.88" y1="606.51" x2="251.88" y2="611.55" stroke="#111" stroke-width="0.9"/><rect x="250.63" y="602.31" width="2.5" height="4.2" fill="#e4dec2" fill-opacity="0.35" stroke="#0a0a0a" stroke-width="0.9"/><line x1="255.11" y1="612.39" x2="255.11" y2="648.5" stroke="#dc1437" stroke-width="1"/><rect x="253.46" y="614.4" width="3.3" height="34.1" fill="#dc1437"/><line x1="258.33" y1="619.94" x2="258.33" y2="627.17" stroke="#111" stroke-width="0.9"/><line x1="258.33" y1="639.6" x2="258.33" y2="646.82" stroke="#111" stroke-width="0.9"/><rect x="257.08" y="627.17" width="2.5" height="12.43" fill="#e4dec2" fill-opacity="0.35" stroke="#0a0a0a" stroke-width="0.9"/><line x1="261.55" y1="577.95" x2="261.55" y2="603.65" stroke="#111" stroke-width="0.9"/><rect x="259.9" y="588.87" width="3.3" height="6.72" fill="#111"/><line x1="264.77" y1="571.23" x2="264.77" y2="576.27" stroke="#111" stroke-width="0.9"/><line x1="264.77" y1="592.56" x2="264.77" y2="598.11" stroke="#111" stroke-width="0.9"/><rect x="263.52" y="576.27" width="2.5" height="16.29" fill="#e4dec2" fill-opacity="0.35" stroke="#0a0a0a" stroke-width="0.9"/><line x1="267.99" y1="559.47" x2="267.99" y2="561.15" stroke="#111" stroke-width="0.9"/><line x1="267.99" y1="573.75" x2="267.99" y2="578.79" stroke="#111" stroke-width="0.9"/><rect x="266.74" y="561.15" width="2.5" height="12.6" fill="#e4dec2" fill-opacity="0.35" stroke="#0a0a0a" stroke-width="0.9"/><line x1="271.21" y1="536.8" x2="271.21" y2="560.31" stroke="#111" stroke-width="0.9"/><rect x="269.56" y="546.04" width="3.3" height="9.57" fill="#111"/><line x1="274.43" y1="525.88" x2="274.43" y2="577.11" stroke="#dc1437" stroke-width="1"/><rect x="272.78" y="548.89" width="3.3" height="15.12" fill="#dc1437"/><line x1="277.65" y1="541" x2="277.65" y2="611.55" stroke="#dc1437" stroke-width="1"/><rect x="276" y="548.89" width="3.3" height="32.92" fill="#dc1437"/><line x1="280.87" y1="570.39" x2="280.87" y2="598.11" stroke="#dc1437" stroke-width="1"/><rect x="279.22" y="576.27" width="3.3" height="14.28" fill="#dc1437"/><line x1="284.09" y1="579.27" x2="284.09" y2="590.25" stroke="#111" stroke-width="0.9"/><line x1="284.09" y1="591.15" x2="284.09" y2="600.55" stroke="#111" stroke-width="0.9"/><rect x="282.84" y="590.25" width="2.5" height="0.9" fill="#e4dec2" fill-opacity="0.35" stroke="#0a0a0a" stroke-width="0.9"/><line x1="287.31" y1="564.51" x2="287.31" y2="567.87" stroke="#111" stroke-width="0.9"/><line x1="287.31" y1="597.6" x2="287.31" y2="598.95" stroke="#111" stroke-width="0.9"/><rect x="286.06" y="567.87" width="2.5" height="29.73" fill="#e4dec2" fill-opacity="0.35" stroke="#0a0a0a" stroke-width="0.9"/><line x1="290.53" y1="559.47" x2="290.53" y2="561.15" stroke="#111" stroke-width="0.9"/><line x1="290.53" y1="565.35" x2="290.53" y2="570.39" stroke="#111" stroke-width="0.9"/><rect x="289.28" y="561.15" width="2.5" height="4.2" fill="#e4dec2" fill-opacity="0.35" stroke="#0a0a0a" stroke-width="0.9"/><line x1="293.75" y1="536.83" x2="293.75" y2="539.35" stroke="#111" stroke-width="0.9"/><line x1="293.75" y1="564.04" x2="293.75" y2="569.59" stroke="#111" stroke-width="0.9"/><rect x="292.5" y="539.35" width="2.5" height="24.69" fill="#e4dec2" fill-opacity="0.35" stroke="#0a0a0a" stroke-width="0.9"/><line x1="296.97" y1="529.94" x2="296.97" y2="538.34" stroke="#111" stroke-width="0.9"/><rect x="295.32" y="533.3" width="3.3" height="4.2" fill="#111"/><line x1="300.19" y1="529.1" x2="300.19" y2="559.34" stroke="#dc1437" stroke-width="1"/><rect x="298.54" y="537.5" width="3.3" height="20.16" fill="#dc1437"/><line x1="303.41" y1="537.5" x2="303.41" y2="547.58" stroke="#111" stroke-width="0.9"/><line x1="303.41" y1="551.78" x2="303.41" y2="564.38" stroke="#111" stroke-width="0.9"/><rect x="302.16" y="547.58" width="2.5" height="4.2" fill="#e4dec2" fill-opacity="0.35" stroke="#0a0a0a" stroke-width="0.9"/><line x1="306.63" y1="509.79" x2="306.63" y2="516.51" stroke="#111" stroke-width="0.9"/><line x1="306.63" y1="545.9" x2="306.63" y2="550.1" stroke="#111" stroke-width="0.9"/><rect x="305.38" y="516.51" width="2.5" height="29.4" fill="#e4dec2" fill-opacity="0.35" stroke="#0a0a0a" stroke-width="0.9"/><line x1="309.85" y1="507.6" x2="309.85" y2="519.03" stroke="#111" stroke-width="0.9"/><rect x="308.2" y="507.6" width="3.3" height="5.54" fill="#111"/><line x1="313.07" y1="492.15" x2="313.07" y2="507.27" stroke="#111" stroke-width="0.9"/><line x1="313.07" y1="512.64" x2="313.07" y2="517.35" stroke="#111" stroke-width="0.9"/><rect x="311.82" y="507.27" width="2.5" height="5.38" fill="#e4dec2" fill-opacity="0.35" stroke="#0a0a0a" stroke-width="0.9"/><line x1="316.29" y1="502.56" x2="316.29" y2="524.06" stroke="#dc1437" stroke-width="1"/><rect x="314.64" y="505.92" width="3.3" height="3.86" fill="#dc1437"/><line x1="319.52" y1="506.43" x2="319.52" y2="537.5" stroke="#dc1437" stroke-width="1"/><rect x="317.87" y="507.27" width="3.3" height="23.52" fill="#dc1437"/><line x1="322.74" y1="504.75" x2="322.74" y2="510.63" stroke="#111" stroke-width="0.9"/><line x1="322.74" y1="527.42" x2="322.74" y2="528.26" stroke="#111" stroke-width="0.9"/><rect x="321.49" y="510.63" width="2.5" height="16.8" fill="#e4dec2" fill-opacity="0.35" stroke="#0a0a0a" stroke-width="0.9"/><line x1="325.96" y1="498.87" x2="325.96" y2="504.75" stroke="#111" stroke-width="0.9"/><line x1="325.96" y1="511.47" x2="325.96" y2="512.31" stroke="#111" stroke-width="0.9"/><rect x="324.71" y="504.75" width="2.5" height="6.72" fill="#e4dec2" fill-opacity="0.35" stroke="#0a0a0a" stroke-width="0.9"/><line x1="329.18" y1="500.21" x2="329.18" y2="515.67" stroke="#dc1437" stroke-width="1"/><rect x="327.53" y="504.75" width="3.3" height="1.18" fill="#dc1437"/><line x1="332.4" y1="498.03" x2="332.4" y2="523.23" stroke="#dc1437" stroke-width="1"/><rect x="330.75" y="500.88" width="3.3" height="15.62" fill="#dc1437"/><line x1="335.62" y1="499.2" x2="335.62" y2="501.39" stroke="#111" stroke-width="0.9"/><line x1="335.62" y1="516.51" x2="335.62" y2="517.35" stroke="#111" stroke-width="0.9"/><rect x="334.37" y="501.39" width="2.5" height="15.12" fill="#e4dec2" fill-opacity="0.35" stroke="#0a0a0a" stroke-width="0.9"/><line x1="338.84" y1="501.39" x2="338.84" y2="524.06" stroke="#dc1437" stroke-width="1"/><rect x="337.19" y="505.25" width="3.3" height="16.29" fill="#dc1437"/><line x1="342.06" y1="514.83" x2="342.06" y2="539.18" stroke="#dc1437" stroke-width="1"/><rect x="340.41" y="516.51" width="3.3" height="9.24" fill="#dc1437"/><line x1="345.28" y1="519.87" x2="345.28" y2="524.4" stroke="#111" stroke-width="0.9"/><line x1="345.28" y1="525.74" x2="345.28" y2="540.86" stroke="#111" stroke-width="0.9"/><rect x="344.03" y="524.4" width="2.5" height="1.34" fill="#e4dec2" fill-opacity="0.35" stroke="#0a0a0a" stroke-width="0.9"/><line x1="348.5" y1="503.91" x2="348.5" y2="512.31" stroke="#111" stroke-width="0.9"/><line x1="348.5" y1="524.9" x2="348.5" y2="525.74" stroke="#111" stroke-width="0.9"/><rect x="347.25" y="512.31" width="2.5" height="12.6" fill="#e4dec2" fill-opacity="0.35" stroke="#0a0a0a" stroke-width="0.9"/><line x1="351.72" y1="501.39" x2="351.72" y2="532.46" stroke="#dc1437" stroke-width="1"/><rect x="350.07" y="509.79" width="3.3" height="15.12" fill="#dc1437"/><line x1="354.94" y1="518.19" x2="354.94" y2="519.53" stroke="#111" stroke-width="0.9"/><line x1="354.94" y1="524.06" x2="354.94" y2="532.46" stroke="#111" stroke-width="0.9"/><rect x="353.69" y="519.53" width="2.5" height="4.54" fill="#e4dec2" fill-opacity="0.35" stroke="#0a0a0a" stroke-width="0.9"/><line x1="358.16" y1="508.95" x2="358.16" y2="512.31" stroke="#111" stroke-width="0.9"/><line x1="358.16" y1="517.35" x2="358.16" y2="522.39" stroke="#111" stroke-width="0.9"/><rect x="356.91" y="512.31" width="2.5" height="5.04" fill="#e4dec2" fill-opacity="0.35" stroke="#0a0a0a" stroke-width="0.9"/><line x1="361.38" y1="502.23" x2="361.38" y2="522.39" stroke="#dc1437" stroke-width="1"/><rect x="359.73" y="510.29" width="3.3" height="2.86" fill="#dc1437"/><line x1="364.6" y1="482.07" x2="364.6" y2="487.11" stroke="#111" stroke-width="0.9"/><line x1="364.6" y1="513.99" x2="364.6" y2="515.67" stroke="#111" stroke-width="0.9"/><rect x="363.35" y="487.11" width="2.5" height="26.88" fill="#e4dec2" fill-opacity="0.35" stroke="#0a0a0a" stroke-width="0.9"/><line x1="367.82" y1="464.43" x2="367.82" y2="466.11" stroke="#111" stroke-width="0.9"/><line x1="367.82" y1="482.41" x2="367.82" y2="483.75" stroke="#111" stroke-width="0.9"/><rect x="366.57" y="466.11" width="2.5" height="16.29" fill="#e4dec2" fill-opacity="0.35" stroke="#0a0a0a" stroke-width="0.9"/><line x1="371.04" y1="461.91" x2="371.04" y2="477.03" stroke="#dc1437" stroke-width="1"/><rect x="369.39" y="468.3" width="3.3" height="1.34" fill="#dc1437"/><line x1="374.26" y1="465.27" x2="374.26" y2="482.91" stroke="#dc1437" stroke-width="1"/><rect x="372.61" y="466.95" width="3.3" height="12.6" fill="#dc1437"/><line x1="377.48" y1="455.2" x2="377.48" y2="474.01" stroke="#111" stroke-width="0.9"/><line x1="377.48" y1="476.19" x2="377.48" y2="492.15" stroke="#111" stroke-width="0.9"/><rect x="376.23" y="474.01" width="2.5" height="2.18" fill="#e4dec2" fill-opacity="0.35" stroke="#0a0a0a" stroke-width="0.9"/><line x1="380.7" y1="460.24" x2="380.7" y2="464.43" stroke="#111" stroke-width="0.9"/><line x1="380.7" y1="484.09" x2="380.7" y2="490.47" stroke="#111" stroke-width="0.9"/><rect x="379.45" y="464.43" width="2.5" height="19.65" fill="#e4dec2" fill-opacity="0.35" stroke="#0a0a0a" stroke-width="0.9"/><line x1="383.93" y1="441.7" x2="383.93" y2="443.05" stroke="#111" stroke-width="0.9"/><line x1="383.93" y1="466.06" x2="383.93" y2="467.74" stroke="#111" stroke-width="0.9"/><rect x="382.68" y="443.05" width="2.5" height="23.01" fill="#e4dec2" fill-opacity="0.35" stroke="#0a0a0a" stroke-width="0.9"/><line x1="387.15" y1="438.34" x2="387.15" y2="439.69" stroke="#111" stroke-width="0.9"/><line x1="387.15" y1="443.38" x2="387.15" y2="448.42" stroke="#111" stroke-width="0.9"/><rect x="385.9" y="439.69" width="2.5" height="3.7" fill="#e4dec2" fill-opacity="0.35" stroke="#0a0a0a" stroke-width="0.9"/><line x1="390.37" y1="418.19" x2="390.37" y2="423.23" stroke="#111" stroke-width="0.9"/><line x1="390.37" y1="438.34" x2="390.37" y2="441.7" stroke="#111" stroke-width="0.9"/><rect x="389.12" y="423.23" width="2.5" height="15.12" fill="#e4dec2" fill-opacity="0.35" stroke="#0a0a0a" stroke-width="0.9"/><line x1="393.59" y1="414.83" x2="393.59" y2="417.35" stroke="#111" stroke-width="0.9"/><line x1="393.59" y1="419.87" x2="393.59" y2="425.74" stroke="#111" stroke-width="0.9"/><rect x="392.34" y="417.35" width="2.5" height="2.52" fill="#e4dec2" fill-opacity="0.35" stroke="#0a0a0a" stroke-width="0.9"/><line x1="396.81" y1="402.23" x2="396.81" y2="411.47" stroke="#111" stroke-width="0.9"/><line x1="396.81" y1="420.71" x2="396.81" y2="421.55" stroke="#111" stroke-width="0.9"/><rect x="395.56" y="411.47" width="2.5" height="9.24" fill="#e4dec2" fill-opacity="0.35" stroke="#0a0a0a" stroke-width="0.9"/><line x1="400.03" y1="409.79" x2="400.03" y2="429.1" stroke="#dc1437" stroke-width="1"/><rect x="398.38" y="410.96" width="3.3" height="10.58" fill="#dc1437"/><line x1="403.25" y1="420.71" x2="403.25" y2="442.54" stroke="#dc1437" stroke-width="1"/><rect x="401.6" y="421.04" width="3.3" height="13.1" fill="#dc1437"/><line x1="406.47" y1="411.47" x2="406.47" y2="414.32" stroke="#111" stroke-width="0.9"/><line x1="406.47" y1="436.16" x2="406.47" y2="437.5" stroke="#111" stroke-width="0.9"/><rect x="405.22" y="414.32" width="2.5" height="21.84" fill="#e4dec2" fill-opacity="0.35" stroke="#0a0a0a" stroke-width="0.9"/><line x1="409.69" y1="418.19" x2="409.69" y2="433.3" stroke="#dc1437" stroke-width="1"/><rect x="408.04" y="418.19" width="3.3" height="9.24" fill="#dc1437"/><line x1="412.91" y1="413.99" x2="412.91" y2="420.71" stroke="#111" stroke-width="0.9"/><line x1="412.91" y1="422.05" x2="412.91" y2="435.82" stroke="#111" stroke-width="0.9"/><rect x="411.66" y="420.71" width="2.5" height="1.34" fill="#e4dec2" fill-opacity="0.35" stroke="#0a0a0a" stroke-width="0.9"/><line x1="416.13" y1="413.99" x2="416.13" y2="439.18" stroke="#dc1437" stroke-width="1"/><rect x="414.48" y="424.4" width="3.3" height="4.7" fill="#dc1437"/><line x1="419.35" y1="420.71" x2="419.35" y2="439.18" stroke="#dc1437" stroke-width="1"/><rect x="417.7" y="425.74" width="3.3" height="4.2" fill="#dc1437"/><line x1="422.57" y1="426.58" x2="422.57" y2="458.5" stroke="#dc1437" stroke-width="1"/><rect x="420.92" y="431.62" width="3.3" height="18.48" fill="#dc1437"/><line x1="425.79" y1="444.22" x2="425.79" y2="458.5" stroke="#dc1437" stroke-width="1"/><rect x="424.14" y="445.9" width="3.3" height="10.08" fill="#dc1437"/><line x1="429.01" y1="441.7" x2="429.01" y2="447.25" stroke="#111" stroke-width="0.9"/><line x1="429.01" y1="457.32" x2="429.01" y2="461.02" stroke="#111" stroke-width="0.9"/><rect x="427.76" y="447.25" width="2.5" height="10.08" fill="#e4dec2" fill-opacity="0.35" stroke="#0a0a0a" stroke-width="0.9"/><line x1="432.23" y1="421.55" x2="432.23" y2="423.23" stroke="#111" stroke-width="0.9"/><line x1="432.23" y1="442.21" x2="432.23" y2="442.88" stroke="#111" stroke-width="0.9"/><rect x="430.98" y="423.23" width="2.5" height="18.98" fill="#e4dec2" fill-opacity="0.35" stroke="#0a0a0a" stroke-width="0.9"/><line x1="435.45" y1="418.19" x2="435.45" y2="434.98" stroke="#dc1437" stroke-width="1"/><rect x="433.8" y="424.9" width="3.3" height="5.88" fill="#dc1437"/><line x1="438.67" y1="417.35" x2="438.67" y2="421.55" stroke="#111" stroke-width="0.9"/><line x1="438.67" y1="431.62" x2="438.67" y2="437.5" stroke="#111" stroke-width="0.9"/><rect x="437.42" y="421.55" width="2.5" height="10.08" fill="#e4dec2" fill-opacity="0.35" stroke="#0a0a0a" stroke-width="0.9"/><line x1="441.89" y1="412.31" x2="441.89" y2="413.48" stroke="#111" stroke-width="0.9"/><line x1="441.89" y1="420.71" x2="441.89" y2="424.06" stroke="#111" stroke-width="0.9"/><rect x="440.64" y="413.48" width="2.5" height="7.22" fill="#e4dec2" fill-opacity="0.35" stroke="#0a0a0a" stroke-width="0.9"/><line x1="445.11" y1="403.07" x2="445.11" y2="403.4" stroke="#111" stroke-width="0.9"/><line x1="445.11" y1="413.99" x2="445.11" y2="414.83" stroke="#111" stroke-width="0.9"/><rect x="443.86" y="403.4" width="2.5" height="10.58" fill="#e4dec2" fill-opacity="0.35" stroke="#0a0a0a" stroke-width="0.9"/><line x1="448.34" y1="383.75" x2="448.34" y2="387.95" stroke="#111" stroke-width="0.9"/><line x1="448.34" y1="403.07" x2="448.34" y2="403.91" stroke="#111" stroke-width="0.9"/><rect x="447.09" y="387.95" width="2.5" height="15.12" fill="#e4dec2" fill-opacity="0.35" stroke="#0a0a0a" stroke-width="0.9"/><line x1="451.56" y1="381.23" x2="451.56" y2="382.41" stroke="#111" stroke-width="0.9"/><line x1="451.56" y1="385.1" x2="451.56" y2="389.63" stroke="#111" stroke-width="0.9"/><rect x="450.31" y="382.41" width="2.5" height="2.69" fill="#e4dec2" fill-opacity="0.35" stroke="#0a0a0a" stroke-width="0.9"/><line x1="454.78" y1="366.95" x2="454.78" y2="369.47" stroke="#111" stroke-width="0.9"/><line x1="454.78" y1="385.43" x2="454.78" y2="386.27" stroke="#111" stroke-width="0.9"/><rect x="453.53" y="369.47" width="2.5" height="15.96" fill="#e4dec2" fill-opacity="0.35" stroke="#0a0a0a" stroke-width="0.9"/><line x1="458" y1="361.08" x2="458" y2="393.83" stroke="#dc1437" stroke-width="1"/><rect x="456.35" y="368.3" width="3.3" height="21.33" fill="#dc1437"/><line x1="461.22" y1="371.15" x2="461.22" y2="377.03" stroke="#111" stroke-width="0.9"/><line x1="461.22" y1="389.13" x2="461.22" y2="389.63" stroke="#111" stroke-width="0.9"/><rect x="459.97" y="377.03" width="2.5" height="12.09" fill="#e4dec2" fill-opacity="0.35" stroke="#0a0a0a" stroke-width="0.9"/><line x1="464.44" y1="368.63" x2="464.44" y2="374.01" stroke="#111" stroke-width="0.9"/><line x1="464.44" y1="377.03" x2="464.44" y2="388.79" stroke="#111" stroke-width="0.9"/><rect x="463.19" y="374.01" width="2.5" height="3.02" fill="#e4dec2" fill-opacity="0.35" stroke="#0a0a0a" stroke-width="0.9"/><line x1="467.66" y1="371.15" x2="467.66" y2="372.83" stroke="#111" stroke-width="0.9"/><line x1="467.66" y1="376.7" x2="467.66" y2="384.59" stroke="#111" stroke-width="0.9"/><rect x="466.41" y="372.83" width="2.5" height="3.86" fill="#e4dec2" fill-opacity="0.35" stroke="#0a0a0a" stroke-width="0.9"/><line x1="470.88" y1="351.84" x2="470.88" y2="356.04" stroke="#111" stroke-width="0.9"/><line x1="470.88" y1="373.67" x2="470.88" y2="374.51" stroke="#111" stroke-width="0.9"/><rect x="469.63" y="356.04" width="2.5" height="17.64" fill="#e4dec2" fill-opacity="0.35" stroke="#0a0a0a" stroke-width="0.9"/><line x1="474.1" y1="341.72" x2="474.1" y2="343.73" stroke="#111" stroke-width="0.9"/><line x1="474.1" y1="352.6" x2="474.1" y2="355.49" stroke="#111" stroke-width="0.9"/><rect x="472.85" y="343.73" width="2.5" height="8.87" fill="#e4dec2" fill-opacity="0.35" stroke="#0a0a0a" stroke-width="0.9"/><line x1="477.32" y1="344.41" x2="477.32" y2="381.7" stroke="#dc1437" stroke-width="1"/><rect x="475.67" y="344.41" width="3.3" height="30.91" fill="#dc1437"/><line x1="480.54" y1="361.91" x2="480.54" y2="381.23" stroke="#dc1437" stroke-width="1"/><rect x="478.89" y="373.34" width="3.3" height="3.7" fill="#dc1437"/><line x1="483.76" y1="370.95" x2="483.76" y2="383.04" stroke="#dc1437" stroke-width="1"/><rect x="482.11" y="378" width="3.3" height="1.34" fill="#dc1437"/><line x1="486.98" y1="369.94" x2="486.98" y2="376.32" stroke="#111" stroke-width="0.9"/><line x1="486.98" y1="378.67" x2="486.98" y2="386.74" stroke="#111" stroke-width="0.9"/><rect x="485.73" y="376.32" width="2.5" height="2.35" fill="#e4dec2" fill-opacity="0.35" stroke="#0a0a0a" stroke-width="0.9"/><line x1="490.2" y1="370.08" x2="490.2" y2="433.07" stroke="#dc1437" stroke-width="1"/><rect x="488.55" y="374.28" width="3.3" height="49.55" fill="#dc1437"/><line x1="493.42" y1="396.11" x2="493.42" y2="404.01" stroke="#111" stroke-width="0.9"/><line x1="493.42" y1="429.2" x2="493.42" y2="440.63" stroke="#111" stroke-width="0.9"/><rect x="492.17" y="404.01" width="2.5" height="25.2" fill="#e4dec2" fill-opacity="0.35" stroke="#0a0a0a" stroke-width="0.9"/><line x1="496.64" y1="396.11" x2="496.64" y2="416.27" stroke="#dc1437" stroke-width="1"/><rect x="494.99" y="398.3" width="3.3" height="13.44" fill="#dc1437"/><line x1="499.86" y1="412.41" x2="499.86" y2="463.3" stroke="#dc1437" stroke-width="1"/><rect x="498.21" y="412.91" width="3.3" height="49.55" fill="#dc1437"/><line x1="503.08" y1="451.76" x2="503.08" y2="470.24" stroke="#dc1437" stroke-width="1"/><rect x="501.43" y="457.36" width="3.3" height="12.32" fill="#dc1437"/><line x1="506.3" y1="456.8" x2="506.3" y2="488.71" stroke="#dc1437" stroke-width="1"/><rect x="504.65" y="470.8" width="3.3" height="11.76" fill="#dc1437"/><line x1="509.52" y1="483.11" x2="509.52" y2="513.91" stroke="#dc1437" stroke-width="1"/><rect x="507.88" y="487.93" width="3.3" height="4.7" fill="#dc1437"/><line x1="512.75" y1="487.03" x2="512.75" y2="502.15" stroke="#dc1437" stroke-width="1"/><rect x="511.1" y="493.08" width="3.3" height="0.9" fill="#dc1437"/><line x1="515.97" y1="460.78" x2="515.97" y2="464.14" stroke="#111" stroke-width="0.9"/><line x1="515.97" y1="493.54" x2="515.97" y2="496.06" stroke="#111" stroke-width="0.9"/><rect x="514.72" y="464.14" width="2.5" height="29.4" fill="#e4dec2" fill-opacity="0.35" stroke="#0a0a0a" stroke-width="0.9"/><line x1="519.19" y1="443.99" x2="519.19" y2="453.23" stroke="#111" stroke-width="0.9"/><line x1="519.19" y1="463.3" x2="519.19" y2="464.98" stroke="#111" stroke-width="0.9"/><rect x="517.94" y="453.23" width="2.5" height="10.08" fill="#e4dec2" fill-opacity="0.35" stroke="#0a0a0a" stroke-width="0.9"/><line x1="522.41" y1="434.75" x2="522.41" y2="438.95" stroke="#111" stroke-width="0.9"/><line x1="522.41" y1="450.71" x2="522.41" y2="459.1" stroke="#111" stroke-width="0.9"/><rect x="521.16" y="438.95" width="2.5" height="11.76" fill="#e4dec2" fill-opacity="0.35" stroke="#0a0a0a" stroke-width="0.9"/><line x1="525.63" y1="422.99" x2="525.63" y2="423.83" stroke="#111" stroke-width="0.9"/><line x1="525.63" y1="438.95" x2="525.63" y2="439.79" stroke="#111" stroke-width="0.9"/><rect x="524.38" y="423.83" width="2.5" height="15.12" fill="#e4dec2" fill-opacity="0.35" stroke="#0a0a0a" stroke-width="0.9"/><line x1="528.85" y1="396.11" x2="528.85" y2="399.98" stroke="#111" stroke-width="0.9"/><line x1="528.85" y1="426.35" x2="528.85" y2="427.19" stroke="#111" stroke-width="0.9"/><rect x="527.6" y="399.98" width="2.5" height="26.37" fill="#e4dec2" fill-opacity="0.35" stroke="#0a0a0a" stroke-width="0.9"/><line x1="532.07" y1="392.75" x2="532.07" y2="462.46" stroke="#dc1437" stroke-width="1"/><rect x="530.42" y="396.95" width="3.3" height="64.67" fill="#dc1437"/><line x1="535.29" y1="445.33" x2="535.29" y2="470.86" stroke="#111" stroke-width="0.9"/><rect x="533.64" y="456.08" width="3.3" height="3.86" fill="#111"/><line x1="538.51" y1="418.79" x2="538.51" y2="431.89" stroke="#111" stroke-width="0.9"/><line x1="538.51" y1="434.75" x2="538.51" y2="439.79" stroke="#111" stroke-width="0.9"/><rect x="537.26" y="431.89" width="2.5" height="2.86" fill="#e4dec2" fill-opacity="0.35" stroke="#0a0a0a" stroke-width="0.9"/><line x1="541.73" y1="414.09" x2="541.73" y2="419.63" stroke="#111" stroke-width="0.9"/><line x1="541.73" y1="433.91" x2="541.73" y2="444.83" stroke="#111" stroke-width="0.9"/><rect x="540.48" y="419.63" width="2.5" height="14.28" fill="#e4dec2" fill-opacity="0.35" stroke="#0a0a0a" stroke-width="0.9"/><line x1="544.95" y1="421.31" x2="544.95" y2="444.83" stroke="#dc1437" stroke-width="1"/><rect x="543.3" y="425.17" width="3.3" height="9.57" fill="#dc1437"/><line x1="548.17" y1="421.31" x2="548.17" y2="429.71" stroke="#111" stroke-width="0.9"/><line x1="548.17" y1="432.56" x2="548.17" y2="438.95" stroke="#111" stroke-width="0.9"/><rect x="546.92" y="429.71" width="2.5" height="2.86" fill="#e4dec2" fill-opacity="0.35" stroke="#0a0a0a" stroke-width="0.9"/><line x1="551.39" y1="419.13" x2="551.39" y2="422.99" stroke="#111" stroke-width="0.9"/><line x1="551.39" y1="430.55" x2="551.39" y2="438.11" stroke="#111" stroke-width="0.9"/><rect x="550.14" y="422.99" width="2.5" height="7.56" fill="#e4dec2" fill-opacity="0.35" stroke="#0a0a0a" stroke-width="0.9"/><line x1="554.61" y1="421.31" x2="554.61" y2="443.99" stroke="#dc1437" stroke-width="1"/><rect x="552.96" y="423.49" width="3.3" height="18.48" fill="#dc1437"/><line x1="557.83" y1="430.55" x2="557.83" y2="434.75" stroke="#111" stroke-width="0.9"/><line x1="557.83" y1="437.27" x2="557.83" y2="450.71" stroke="#111" stroke-width="0.9"/><rect x="556.58" y="434.75" width="2.5" height="2.52" fill="#e4dec2" fill-opacity="0.35" stroke="#0a0a0a" stroke-width="0.9"/><line x1="561.05" y1="416.27" x2="561.05" y2="417.45" stroke="#111" stroke-width="0.9"/><line x1="561.05" y1="430.55" x2="561.05" y2="438.95" stroke="#111" stroke-width="0.9"/><rect x="559.8" y="417.45" width="2.5" height="13.1" fill="#e4dec2" fill-opacity="0.35" stroke="#0a0a0a" stroke-width="0.9"/><line x1="564.27" y1="393.59" x2="564.27" y2="395.61" stroke="#111" stroke-width="0.9"/><line x1="564.27" y1="418.45" x2="564.27" y2="419.63" stroke="#111" stroke-width="0.9"/><rect x="563.02" y="395.61" width="2.5" height="22.84" fill="#e4dec2" fill-opacity="0.35" stroke="#0a0a0a" stroke-width="0.9"/><line x1="567.49" y1="369.24" x2="567.49" y2="370.92" stroke="#111" stroke-width="0.9"/><line x1="567.49" y1="394.43" x2="567.49" y2="396.11" stroke="#111" stroke-width="0.9"/><rect x="566.24" y="370.92" width="2.5" height="23.52" fill="#e4dec2" fill-opacity="0.35" stroke="#0a0a0a" stroke-width="0.9"/><line x1="570.71" y1="370.08" x2="570.71" y2="407.87" stroke="#dc1437" stroke-width="1"/><rect x="569.06" y="373.77" width="3.3" height="28.22" fill="#dc1437"/><line x1="573.94" y1="397.79" x2="573.94" y2="433.91" stroke="#dc1437" stroke-width="1"/><rect x="572.29" y="404.51" width="3.3" height="19.32" fill="#dc1437"/><line x1="577.16" y1="417.95" x2="577.16" y2="433.91" stroke="#dc1437" stroke-width="1"/><rect x="575.51" y="427.19" width="3.3" height="2.52" fill="#dc1437"/><line x1="580.38" y1="423.83" x2="580.38" y2="442.31" stroke="#dc1437" stroke-width="1"/><rect x="578.73" y="427.19" width="3.3" height="5.38" fill="#dc1437"/><line x1="583.6" y1="429.2" x2="583.6" y2="456.58" stroke="#dc1437" stroke-width="1"/><rect x="581.95" y="431.89" width="3.3" height="6.22" fill="#dc1437"/><line x1="586.82" y1="446.51" x2="586.82" y2="476.74" stroke="#dc1437" stroke-width="1"/><rect x="585.17" y="468.85" width="3.3" height="4.54" fill="#dc1437"/><line x1="590.04" y1="437.6" x2="590.04" y2="443.15" stroke="#111" stroke-width="0.9"/><line x1="590.04" y1="467.5" x2="590.04" y2="471.7" stroke="#111" stroke-width="0.9"/><rect x="588.79" y="443.15" width="2.5" height="24.36" fill="#e4dec2" fill-opacity="0.35" stroke="#0a0a0a" stroke-width="0.9"/><line x1="593.26" y1="443.15" x2="593.26" y2="459.1" stroke="#dc1437" stroke-width="1"/><rect x="591.61" y="447.35" width="3.3" height="7.56" fill="#dc1437"/><line x1="596.48" y1="447.35" x2="596.48" y2="450.71" stroke="#111" stroke-width="0.9"/><line x1="596.48" y1="454.06" x2="596.48" y2="457.42" stroke="#111" stroke-width="0.9"/><rect x="595.23" y="450.71" width="2.5" height="3.36" fill="#e4dec2" fill-opacity="0.35" stroke="#0a0a0a" stroke-width="0.9"/><line x1="599.7" y1="436.43" x2="599.7" y2="437.6" stroke="#111" stroke-width="0.9"/><line x1="599.7" y1="449.03" x2="599.7" y2="450.71" stroke="#111" stroke-width="0.9"/><rect x="598.45" y="437.6" width="2.5" height="11.42" fill="#e4dec2" fill-opacity="0.35" stroke="#0a0a0a" stroke-width="0.9"/><line x1="602.92" y1="437.27" x2="602.92" y2="457.42" stroke="#dc1437" stroke-width="1"/><rect x="601.27" y="437.6" width="3.3" height="14.78" fill="#dc1437"/><line x1="606.14" y1="449.03" x2="606.14" y2="467.5" stroke="#dc1437" stroke-width="1"/><rect x="604.49" y="449.87" width="3.3" height="12.6" fill="#dc1437"/><line x1="609.36" y1="445.67" x2="609.36" y2="446.51" stroke="#111" stroke-width="0.9"/><line x1="609.36" y1="460.78" x2="609.36" y2="464.98" stroke="#111" stroke-width="0.9"/><rect x="608.11" y="446.51" width="2.5" height="14.28" fill="#e4dec2" fill-opacity="0.35" stroke="#0a0a0a" stroke-width="0.9"/><line x1="612.58" y1="423.83" x2="612.58" y2="428.03" stroke="#111" stroke-width="0.9"/><line x1="612.58" y1="446.51" x2="612.58" y2="450.71" stroke="#111" stroke-width="0.9"/><rect x="611.33" y="428.03" width="2.5" height="18.48" fill="#e4dec2" fill-opacity="0.35" stroke="#0a0a0a" stroke-width="0.9"/><line x1="615.8" y1="420.13" x2="615.8" y2="440.63" stroke="#dc1437" stroke-width="1"/><rect x="614.15" y="426.85" width="3.3" height="10.75" fill="#dc1437"/><line x1="619.02" y1="433.91" x2="619.02" y2="458.26" stroke="#dc1437" stroke-width="1"/><rect x="617.37" y="437.6" width="3.3" height="4.7" fill="#dc1437"/><line x1="622.24" y1="421.81" x2="622.24" y2="430.55" stroke="#111" stroke-width="0.9"/><line x1="622.24" y1="442.31" x2="622.24" y2="445.67" stroke="#111" stroke-width="0.9"/><rect x="620.99" y="430.55" width="2.5" height="11.76" fill="#e4dec2" fill-opacity="0.35" stroke="#0a0a0a" stroke-width="0.9"/><line x1="625.46" y1="416.27" x2="625.46" y2="426.35" stroke="#111" stroke-width="0.9"/><line x1="625.46" y1="432.23" x2="625.46" y2="433.91" stroke="#111" stroke-width="0.9"/><rect x="624.21" y="426.35" width="2.5" height="5.88" fill="#e4dec2" fill-opacity="0.35" stroke="#0a0a0a" stroke-width="0.9"/><line x1="628.68" y1="386.65" x2="628.68" y2="398.3" stroke="#111" stroke-width="0.9"/><line x1="628.68" y1="413.19" x2="628.68" y2="416.55" stroke="#111" stroke-width="0.9"/><rect x="627.43" y="398.3" width="2.5" height="14.89" fill="#e4dec2" fill-opacity="0.35" stroke="#0a0a0a" stroke-width="0.9"/><line x1="631.9" y1="393.03" x2="631.9" y2="423.83" stroke="#dc1437" stroke-width="1"/><rect x="630.25" y="397.51" width="3.3" height="24.08" fill="#dc1437"/><line x1="635.12" y1="412.07" x2="635.12" y2="419.01" stroke="#111" stroke-width="0.9"/><line x1="635.12" y1="419.91" x2="635.12" y2="426.07" stroke="#111" stroke-width="0.9"/><rect x="633.87" y="419.01" width="2.5" height="0.9" fill="#e4dec2" fill-opacity="0.35" stroke="#0a0a0a" stroke-width="0.9"/><line x1="638.35" y1="393.59" x2="638.35" y2="396.06" stroke="#111" stroke-width="0.9"/><line x1="638.35" y1="412.41" x2="638.35" y2="417.67" stroke="#111" stroke-width="0.9"/><rect x="637.1" y="396.06" width="2.5" height="16.35" fill="#e4dec2" fill-opacity="0.35" stroke="#0a0a0a" stroke-width="0.9"/><line x1="641.57" y1="371.2" x2="641.57" y2="375.45" stroke="#111" stroke-width="0.9"/><line x1="641.57" y1="393.59" x2="641.57" y2="395.27" stroke="#111" stroke-width="0.9"/><rect x="640.32" y="375.45" width="2.5" height="18.14" fill="#e4dec2" fill-opacity="0.35" stroke="#0a0a0a" stroke-width="0.9"/>
</g>
<polygon points="39.8,585.4 45.2,585.4 42.5,589" fill="#fff" fill-opacity="0.95" stroke="#aaa69a" stroke-width="0.4"/><rect x="28.5" y="577.8" width="26.8" height="7.6" fill="#fff" fill-opacity="0.95" stroke="#a9a59a" stroke-width="0.55"/><text x="41.9" y="584.25" font-size="7.3" text-anchor="middle" fill="#000" textLength="24" lengthAdjust="spacing">2433.30</text><polygon points="27,661.9 32.4,661.9 29.7,657.6" fill="#fff" fill-opacity="0.95" stroke="#aaa69a" stroke-width="0.4"/><rect x="15.05" y="661.9" width="26.8" height="7.6" fill="#fff" fill-opacity="0.95" stroke="#a9a59a" stroke-width="0.55"/><text x="28.45" y="668.35" font-size="7.3" text-anchor="middle" fill="#000" textLength="24" lengthAdjust="spacing">2340.20</text><polygon points="46.5,688.5 51.9,688.5 49.2,685.1" fill="#fff" fill-opacity="0.95" stroke="#aaa69a" stroke-width="0.4"/><rect x="35" y="688.5" width="26.8" height="7.6" fill="#fff" fill-opacity="0.95" stroke="#a9a59a" stroke-width="0.55"/><text x="48.4" y="694.95" font-size="7.3" text-anchor="middle" fill="#000" textLength="24" lengthAdjust="spacing">2304.60</text><polygon points="72.2,703.1 77.6,703.1 74.9,699.4" fill="#fff" fill-opacity="0.95" stroke="#aaa69a" stroke-width="0.4"/><rect x="60.7" y="703.1" width="26.8" height="7.6" fill="#fff" fill-opacity="0.95" stroke="#a9a59a" stroke-width="0.55"/><text x="74.1" y="709.55" font-size="7.3" text-anchor="middle" fill="#000" textLength="24" lengthAdjust="spacing">2285.20</text><polygon points="107.8,569.55 113.2,569.55 110.5,573.8" fill="#fff" fill-opacity="0.95" stroke="#aaa69a" stroke-width="0.4"/><rect x="95.95" y="561.95" width="26.8" height="7.6" fill="#fff" fill-opacity="0.95" stroke="#a9a59a" stroke-width="0.55"/><text x="109.35" y="568.4" font-size="7.3" text-anchor="middle" fill="#000" textLength="24" lengthAdjust="spacing">2454.20</text><polygon points="120.2,672 125.6,672 122.9,668.3" fill="#fff" fill-opacity="0.95" stroke="#aaa69a" stroke-width="0.4"/><rect x="109" y="672" width="26.8" height="7.6" fill="#fff" fill-opacity="0.95" stroke="#a9a59a" stroke-width="0.55"/><text x="122.4" y="678.45" font-size="7.3" text-anchor="middle" fill="#000" textLength="24" lengthAdjust="spacing">2326.30</text><polygon points="149.3,604.4 154.7,604.4 152,608.3" fill="#fff" fill-opacity="0.95" stroke="#aaa69a" stroke-width="0.4"/><rect x="137.6" y="596.8" width="26.8" height="7.6" fill="#fff" fill-opacity="0.95" stroke="#a9a59a" stroke-width="0.55"/><text x="151" y="603.25" font-size="7.3" text-anchor="middle" fill="#000" textLength="24" lengthAdjust="spacing">2406.70</text><polygon points="152.3,689.15 157.7,689.15 155,685.1" fill="#fff" fill-opacity="0.95" stroke="#aaa69a" stroke-width="0.4"/><rect x="140.8" y="689.15" width="26.8" height="7.6" fill="#fff" fill-opacity="0.95" stroke="#a9a59a" stroke-width="0.55"/><text x="154.2" y="695.6" font-size="7.3" text-anchor="middle" fill="#000" textLength="24" lengthAdjust="spacing">2304.50</text><polygon points="177.9,622 183.3,622 180.6,625.8" fill="#fff" fill-opacity="0.95" stroke="#aaa69a" stroke-width="0.4"/><rect x="166.7" y="614.4" width="26.8" height="7.6" fill="#fff" fill-opacity="0.95" stroke="#a9a59a" stroke-width="0.55"/><text x="180.1" y="620.85" font-size="7.3" text-anchor="middle" fill="#000" textLength="24" lengthAdjust="spacing">2382.60</text><polygon points="187.9,689.15 193.3,689.15 190.6,685.3" fill="#fff" fill-opacity="0.95" stroke="#aaa69a" stroke-width="0.4"/><rect x="176.85" y="689.15" width="26.8" height="7.6" fill="#fff" fill-opacity="0.95" stroke="#a9a59a" stroke-width="0.55"/><text x="190.25" y="695.6" font-size="7.3" text-anchor="middle" fill="#000" textLength="24" lengthAdjust="spacing">2304.70</text><polygon points="232.5,546.1 237.9,546.1 235.2,549.6" fill="#fff" fill-opacity="0.95" stroke="#aaa69a" stroke-width="0.4"/><rect x="221.75" y="538.5" width="26.8" height="7.6" fill="#fff" fill-opacity="0.95" stroke="#a9a59a" stroke-width="0.55"/><text x="235.15" y="544.95" font-size="7.3" text-anchor="middle" fill="#000" textLength="24" lengthAdjust="spacing">2488.40</text><polygon points="252.3,653.05 257.7,653.05 255,649.3" fill="#fff" fill-opacity="0.95" stroke="#aaa69a" stroke-width="0.4"/><rect x="241.05" y="653.05" width="26.8" height="7.6" fill="#fff" fill-opacity="0.95" stroke="#a9a59a" stroke-width="0.55"/><text x="254.45" y="659.5" font-size="7.3" text-anchor="middle" fill="#000" textLength="24" lengthAdjust="spacing">2351.90</text><polygon points="271.8,522.6 277.2,522.6 274.5,526" fill="#fff" fill-opacity="0.95" stroke="#aaa69a" stroke-width="0.4"/><rect x="260.75" y="515" width="26.8" height="7.6" fill="#fff" fill-opacity="0.95" stroke="#a9a59a" stroke-width="0.55"/><text x="274.15" y="521.45" font-size="7.3" text-anchor="middle" fill="#000" textLength="24" lengthAdjust="spacing">2522.50</text><polygon points="274.6,614.9 280,614.9 277.3,611.2" fill="#fff" fill-opacity="0.95" stroke="#aaa69a" stroke-width="0.4"/><rect x="263.7" y="614.9" width="26.8" height="7.6" fill="#fff" fill-opacity="0.95" stroke="#a9a59a" stroke-width="0.55"/><text x="277.1" y="621.35" font-size="7.3" text-anchor="middle" fill="#000" textLength="24" lengthAdjust="spacing">2403.80</text><polygon points="310.1,489.45 315.5,489.45 312.8,492.9" fill="#fff" fill-opacity="0.95" stroke="#aaa69a" stroke-width="0.4"/><rect x="298.85" y="481.85" width="26.8" height="7.6" fill="#fff" fill-opacity="0.95" stroke="#a9a59a" stroke-width="0.55"/><text x="312.25" y="488.3" font-size="7.3" text-anchor="middle" fill="#000" textLength="24" lengthAdjust="spacing">2570.40</text><polygon points="342.4,544.6 347.8,544.6 345.1,541" fill="#fff" fill-opacity="0.95" stroke="#aaa69a" stroke-width="0.4"/><rect x="330.95" y="544.6" width="26.8" height="7.6" fill="#fff" fill-opacity="0.95" stroke="#a9a59a" stroke-width="0.55"/><text x="344.35" y="551.05" font-size="7.3" text-anchor="middle" fill="#000" textLength="24" lengthAdjust="spacing">2502.70</text><polygon points="393.8,398.4 399.2,398.4 396.5,402" fill="#fff" fill-opacity="0.95" stroke="#aaa69a" stroke-width="0.4"/><rect x="382.8" y="390.8" width="26.8" height="7.6" fill="#fff" fill-opacity="0.95" stroke="#a9a59a" stroke-width="0.55"/><text x="396.2" y="397.25" font-size="7.3" text-anchor="middle" fill="#000" textLength="24" lengthAdjust="spacing">2708.70</text><polygon points="426.3,465.55 431.7,465.55 429,461.8" fill="#fff" fill-opacity="0.95" stroke="#aaa69a" stroke-width="0.4"/><rect x="414.9" y="465.55" width="26.8" height="7.6" fill="#fff" fill-opacity="0.95" stroke="#a9a59a" stroke-width="0.55"/><text x="428.3" y="472" font-size="7.3" text-anchor="middle" fill="#000" textLength="24" lengthAdjust="spacing">2618.80</text><polygon points="469.3,338.8 474.7,338.8 472,341.6" fill="#fff" fill-opacity="0.95" stroke="#aaa69a" stroke-width="0.4"/><rect x="459.6" y="331.2" width="26.8" height="7.6" fill="#fff" fill-opacity="0.95" stroke="#a9a59a" stroke-width="0.55"/><text x="473" y="337.65" font-size="7.3" text-anchor="middle" fill="#000" textLength="24" lengthAdjust="spacing">2801.80</text><polygon points="506.6,518 512,518 509.3,514" fill="#fff" fill-opacity="0.95" stroke="#aaa69a" stroke-width="0.4"/><rect x="495.6" y="518" width="26.8" height="7.6" fill="#fff" fill-opacity="0.95" stroke="#a9a59a" stroke-width="0.55"/><text x="509" y="524.45" font-size="7.3" text-anchor="middle" fill="#000" textLength="24" lengthAdjust="spacing">2541.50</text><polygon points="528.5,388.95 533.9,388.95 531.2,392.2" fill="#fff" fill-opacity="0.95" stroke="#aaa69a" stroke-width="0.4"/><rect x="518.25" y="381.35" width="26.8" height="7.6" fill="#fff" fill-opacity="0.95" stroke="#a9a59a" stroke-width="0.55"/><text x="531.65" y="387.8" font-size="7.3" text-anchor="middle" fill="#000" textLength="24" lengthAdjust="spacing">2723.20</text><polygon points="532.7,474.45 538.1,474.45 535.4,470.9" fill="#fff" fill-opacity="0.95" stroke="#aaa69a" stroke-width="0.4"/><rect x="521.3" y="474.45" width="26.8" height="7.6" fill="#fff" fill-opacity="0.95" stroke="#a9a59a" stroke-width="0.55"/><text x="534.7" y="480.9" font-size="7.3" text-anchor="middle" fill="#000" textLength="24" lengthAdjust="spacing">2605.30</text><polygon points="567.2,364.55 572.6,364.55 569.9,367.8" fill="#fff" fill-opacity="0.95" stroke="#aaa69a" stroke-width="0.4"/><rect x="556.45" y="356.95" width="26.8" height="7.6" fill="#fff" fill-opacity="0.95" stroke="#a9a59a" stroke-width="0.55"/><text x="569.85" y="363.4" font-size="7.3" text-anchor="middle" fill="#000" textLength="24" lengthAdjust="spacing">2761.30</text><polygon points="583.9,480.8 589.3,480.8 586.6,477" fill="#fff" fill-opacity="0.95" stroke="#aaa69a" stroke-width="0.4"/><rect x="572.85" y="480.8" width="26.8" height="7.6" fill="#fff" fill-opacity="0.95" stroke="#a9a59a" stroke-width="0.55"/><text x="586.25" y="487.25" font-size="7.3" text-anchor="middle" fill="#000" textLength="24" lengthAdjust="spacing">2596.70</text>
<g clip-path="url(#cpP)">
<line x1="471.6" y1="341.4" x2="673.2" y2="398.3" stroke="#1212f2" stroke-width="2" stroke-linecap="round"/>
<line x1="507.5" y1="516.6" x2="673.2" y2="436.6" stroke="#1212f2" stroke-width="2" stroke-linecap="round"/>
</g>
<g>
<text x="25" y="4.6" font-size="9.3" font-weight="bold" fill="#000" text-anchor="start" >$GOLD</text>
<text x="60" y="3.9" font-size="7.8" fill="#111" text-anchor="start" >Gold - Continuous Contract (EOD)  CME</text>
<text x="964.8" y="3.7" font-size="7.7" fill="#333" text-anchor="end" >&#169;StockCharts.com</text>
</g>
<text x="27.5" y="25.6" font-size="7.75" fill="#111" text-anchor="start" >Open:</text>
<text x="70.2" y="25.6" font-size="8.7" font-weight="bold" fill="#000" text-anchor="start" >2722.30</text>
<text x="27.5" y="36.1" font-size="7.75" fill="#111" text-anchor="start" >High:</text>
<text x="70.2" y="36.1" font-size="8.7" font-weight="bold" fill="#000" text-anchor="start" >2757.90</text>
<text x="27.5" y="46.7" font-size="7.75" fill="#111" text-anchor="start" >Low:</text>
<text x="70.2" y="46.7" font-size="8.7" font-weight="bold" fill="#000" text-anchor="start" >2720.40</text>
<text x="27.5" y="57.3" font-size="7.75" fill="#111" text-anchor="start" >Prev Close:</text>
<text x="70.2" y="57.3" font-size="8.7" font-weight="bold" fill="#000" text-anchor="start" >2717.80</text>
<text x="127.5" y="25.6" font-size="7.75" fill="#111" text-anchor="start" >Ask:</text>
<text x="127.5" y="36.1" font-size="7.75" fill="#111" text-anchor="start" >Bid:</text>
<text x="127.5" y="46.7" font-size="7.75" fill="#111" text-anchor="start" >Last:</text>
<text x="127.5" y="57.3" font-size="7.75" fill="#111" text-anchor="start" >Optionable:</text>
<text x="179.5" y="57.3" font-size="8.7" font-weight="bold" fill="#000" text-anchor="start" >no</text>
<text x="213.5" y="25.6" font-size="7.75" fill="#111" text-anchor="start" >Mkt Cap:</text>
<text x="213.5" y="36.1" font-size="7.75" fill="#111" text-anchor="start" >Fwd Dividend:</text>
<text x="213.5" y="46.7" font-size="7.75" fill="#111" text-anchor="start" >Fwd Yield:</text>
<text x="213.5" y="57.3" font-size="7.75" fill="#111" text-anchor="start" >SCTR:</text>
<text x="266.3" y="36.1" font-size="8.2" font-weight="bold" fill="#000" text-anchor="start" >N/A</text>
<text x="266.3" y="46.7" font-size="8.2" font-weight="bold" fill="#000" text-anchor="start" >N/A</text>
<text x="304.5" y="25.6" font-size="7.75" fill="#111" text-anchor="start" >P/E:</text>
<text x="304.5" y="36.1" font-size="7.75" fill="#111" text-anchor="start" >EPS:</text>
<text x="304.5" y="46.7" font-size="7.75" fill="#111" text-anchor="start" >Last Earnings:</text>
<text x="304.5" y="57.3" font-size="7.75" fill="#111" text-anchor="start" >Next Earnings:</text>
<text x="961.2" y="14.9" font-size="8.0" fill="#111" text-anchor="end" >Thursday&#160; 16-Jan-2025</text>
<polygon points="892,19.2 896.6,27.4 887.4,27.4" fill="#2f7d3a"/>
<text x="961.2" y="27.2" font-size="10.8" font-weight="bold" fill="#2f7d3a" text-anchor="end" >+1.22%</text>
<text x="884.8" y="36.5" font-size="7.75" fill="#111" text-anchor="start" >Chg:</text>
<text x="961.2" y="36.5" font-size="8.6" font-weight="bold" fill="#000" text-anchor="end" >+33.10</text>
<text x="884.8" y="47.3" font-size="7.75" fill="#111" text-anchor="start" >Last:</text>
<text x="961.2" y="47.3" font-size="8.6" font-weight="bold" fill="#000" text-anchor="end" >2750.90</text>
<text x="884.8" y="57.7" font-size="7.75" fill="#111" text-anchor="start" >Volume:</text>
<text x="961.2" y="57.7" font-size="8.6" font-weight="bold" fill="#000" text-anchor="end" >17,613,400</text>
<path d="M27.2 67.6 L30.2 61.99999999999999 L31.299999999999997 65.0 L33.2 64.19999999999999 L33.5 67.6 Z" fill="#57953f"/><path d="M27.2 67.6 L30.2 61.99999999999999 L31.299999999999997 65.0 L33.2 64.19999999999999 L33.5 67.6" fill="none" stroke="#141414" stroke-width="1.15" stroke-linejoin="miter"/>
<text x="36.2" y="67.8" font-size="7.4" fill="#161616" text-anchor="start" letter-spacing="0.85" stroke="#161616" stroke-width="0.22">MFI(14) 66.40</text>
<path d="M27.2 202.1 L30.2 196.5 L31.299999999999997 199.5 L33.2 198.7 L33.5 202.1 Z" fill="#57953f"/><path d="M27.2 202.1 L30.2 196.5 L31.299999999999997 199.5 L33.2 198.7 L33.5 202.1" fill="none" stroke="#141414" stroke-width="1.15" stroke-linejoin="miter"/>
<text x="36.4" y="202.3" font-size="7.4" fill="#161616" text-anchor="start" letter-spacing="0.62" stroke="#161616" stroke-width="0.22">FORCE(0) 0.00</text>
<g stroke="#0c0c0c" stroke-width="0.8"><line x1="28.9" y1="331.4" x2="28.9" y2="337"/><rect x="27.8" y="332.4" width="2.3" height="3.8" fill="#0c0c0c"/><line x1="32.2" y1="330.9" x2="32.2" y2="337.2"/><rect x="31.1" y="331.8" width="2.1" height="4.6" fill="#f6f0d6"/></g>
<text x="36.4" y="336.9" font-size="7.4" fill="#111" text-anchor="start" letter-spacing="0.795" stroke="#111" stroke-width="0.22">$GOLD (Daily) 2750.90</text>
<line x1="27.2" y1="342.2" x2="33.2" y2="342.2" stroke="#dc1437" stroke-width="1.4"/>
<text x="34.6" y="344.8" font-size="6.9" fill="#dc1437" text-anchor="start" letter-spacing="0.08" stroke="#dc1437" stroke-width="0.2">EMA(50) 2665.78</text>
<line x1="27.2" y1="728" x2="33.2" y2="728" stroke="#111" stroke-width="1.5"/>
<text x="36.2" y="730.6" font-size="7.4" fill="#161616" letter-spacing="0.875">MACD(12,26,9) 13.374<tspan fill="#e8251f">, 3.267</tspan><tspan fill="#3d9ad1">, 10.106</tspan></text>
<rect x="679.5" y="226.8" width="202.89999999999998" height="121.19999999999999" fill="#5f5848" fill-opacity="0.6" filter="url(#sh)"/>
<polygon points="679.3000000000001,342.8 683.7,347.2 646.2,380.6" fill="#6a6454" fill-opacity="0.55"/>
<rect x="677.7" y="224.8" width="202.89999999999998" height="121.19999999999999" fill="#fff" stroke="#b0b0ac" stroke-width="0.7"/>
<polygon points="677.6,341.4 682.1,346.2 644.9,379.7" fill="#fdfdfb" stroke="#7c7c78" stroke-width="0.5" stroke-linejoin="round"/>
<polygon points="678.2,341.1 682.5,345.6 681.9000000000001,341.0" fill="#fff"/>
<text x="680.1" y="238.4" font-size="12.0" font-weight="bold" fill="#0a0ae6" text-anchor="start" >While the current rally may be</text>
<text x="680.1" y="253.12" font-size="12.0" font-weight="bold" fill="#0a0ae6" text-anchor="start" >driven by hedging ahead of</text>
<text x="680.1" y="267.84" font-size="12.0" font-weight="bold" fill="#0a0ae6" text-anchor="start" >Trump`s inauguration, if gold</text>
<text x="680.1" y="282.56" font-size="12.0" font-weight="bold" fill="#0a0ae6" text-anchor="start" >continues to rise</text>
<text x="680.1" y="297.28" font-size="12.0" font-weight="bold" fill="#0a0ae6" text-anchor="start" >post-inauguration, it could quickly</text>
<text x="680.1" y="312" font-size="12.0" font-weight="bold" fill="#0a0ae6" text-anchor="start" >approach $3,000. A dip below</text>
<text x="680.1" y="326.72" font-size="12.0" font-weight="bold" fill="#0a0ae6" text-anchor="start" >$2,700, however, would likely lead</text>
<text x="680.1" y="341.44" font-size="12.0" font-weight="bold" fill="#0a0ae6" text-anchor="start" >to consolidation.</text>
</svg></body></html>
